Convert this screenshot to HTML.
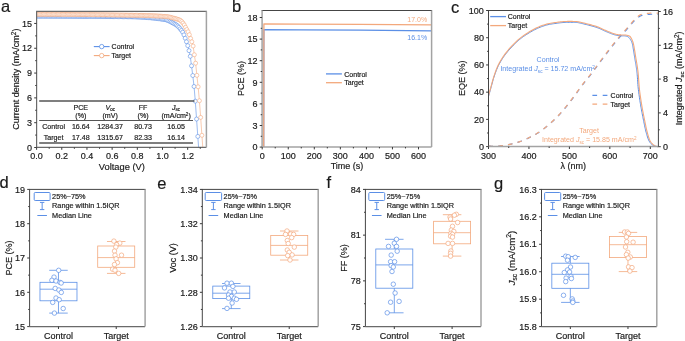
<!DOCTYPE html>
<html><head><meta charset="utf-8"><style>
html,body{margin:0;padding:0;background:#fff;}
body{width:685px;height:341px;overflow:hidden;}
svg{display:block;font-family:"Liberation Sans", sans-serif;filter:blur(0.4px);}
text{stroke-width:0.18px;}
</style></head><body>
<svg width="685" height="341" viewBox="0 0 685 341">
<rect width="685" height="341" fill="#fff"/>
<g id="pa">
<clipPath id="clipa"><rect x="36.6" y="11.3" width="169.8" height="136.1"/></clipPath>
<g clip-path="url(#clipa)">
<polyline points="36.66,16.2 37.92,16.2 39.18,16.2 40.44,16.2 41.7,16.2 42.96,16.2 44.22,16.2 45.48,16.2 46.73,16.21 47.99,16.21 49.25,16.21 50.51,16.21 51.77,16.21 53.03,16.22 54.29,16.22 55.55,16.22 56.81,16.23 58.07,16.23 59.32,16.23 60.58,16.24 61.84,16.24 63.1,16.24 64.36,16.25 65.62,16.25 66.88,16.26 68.14,16.26 69.4,16.27 70.66,16.27 71.91,16.28 73.17,16.28 74.43,16.29 75.69,16.3 76.95,16.3 78.21,16.31 79.47,16.32 80.73,16.33 81.99,16.33 83.25,16.34 84.5,16.35 85.76,16.36 87.02,16.36 88.28,16.37 89.54,16.38 90.8,16.39 92.06,16.4 93.32,16.41 94.58,16.42 95.84,16.43 97.09,16.44 98.35,16.45 99.61,16.46 100.87,16.47 102.13,16.48 103.39,16.5 104.65,16.51 105.91,16.52 107.17,16.53 108.43,16.54 109.68,16.56 110.94,16.57 112.2,16.58 113.46,16.6 114.72,16.61 115.98,16.63 117.24,16.64 118.5,16.65 119.76,16.67 121.02,16.68 122.27,16.7 123.53,16.72 124.79,16.73 126.05,16.75 127.31,16.76 128.57,16.78 129.83,16.8 131.09,16.82 132.35,16.84 133.61,16.87 134.86,16.9 136.12,16.94 137.38,16.99 138.64,17.04 139.9,17.1 141.16,17.16 142.42,17.23 143.68,17.3 144.94,17.39 146.2,17.47 147.45,17.57 148.71,17.67 149.97,17.77 151.23,17.89 152.49,18.01 153.75,18.13 155.01,18.27 156.27,18.41 157.53,18.56 158.79,18.72 160.04,18.88 161.3,19.05 162.56,19.23 163.82,19.42 165.08,19.61 166.34,19.91 167.6,20.35 168.86,20.9 170.12,21.52 171.38,22.19 172.63,22.86 173.89,23.52 175.15,24.24 176.41,25.04 177.67,25.99 178.93,27.24 180.19,28.81 181.45,30.42 182.71,32.2 183.97,34.89 185.22,38.22 186.48,41.75 187.74,45.65 189,50.63 190.26,56.29 191.52,65.84 192.78,75.52 194.04,86.48 195.3,101.16 196.56,119.04 197.81,136.43 199.07,153.92" fill="none" stroke="#5b8fe6" stroke-width="0.6" stroke-linejoin="round" />
<circle cx="36.66" cy="16.2" r="2.0" fill="#fff" stroke="#5b8fe6" stroke-width="0.6"/>
<circle cx="37.92" cy="16.2" r="2.0" fill="#fff" stroke="#5b8fe6" stroke-width="0.6"/>
<circle cx="39.18" cy="16.2" r="2.0" fill="#fff" stroke="#5b8fe6" stroke-width="0.6"/>
<circle cx="40.44" cy="16.2" r="2.0" fill="#fff" stroke="#5b8fe6" stroke-width="0.6"/>
<circle cx="41.7" cy="16.2" r="2.0" fill="#fff" stroke="#5b8fe6" stroke-width="0.6"/>
<circle cx="42.96" cy="16.2" r="2.0" fill="#fff" stroke="#5b8fe6" stroke-width="0.6"/>
<circle cx="44.22" cy="16.2" r="2.0" fill="#fff" stroke="#5b8fe6" stroke-width="0.6"/>
<circle cx="45.48" cy="16.2" r="2.0" fill="#fff" stroke="#5b8fe6" stroke-width="0.6"/>
<circle cx="46.73" cy="16.21" r="2.0" fill="#fff" stroke="#5b8fe6" stroke-width="0.6"/>
<circle cx="47.99" cy="16.21" r="2.0" fill="#fff" stroke="#5b8fe6" stroke-width="0.6"/>
<circle cx="49.25" cy="16.21" r="2.0" fill="#fff" stroke="#5b8fe6" stroke-width="0.6"/>
<circle cx="50.51" cy="16.21" r="2.0" fill="#fff" stroke="#5b8fe6" stroke-width="0.6"/>
<circle cx="51.77" cy="16.21" r="2.0" fill="#fff" stroke="#5b8fe6" stroke-width="0.6"/>
<circle cx="53.03" cy="16.22" r="2.0" fill="#fff" stroke="#5b8fe6" stroke-width="0.6"/>
<circle cx="54.29" cy="16.22" r="2.0" fill="#fff" stroke="#5b8fe6" stroke-width="0.6"/>
<circle cx="55.55" cy="16.22" r="2.0" fill="#fff" stroke="#5b8fe6" stroke-width="0.6"/>
<circle cx="56.81" cy="16.23" r="2.0" fill="#fff" stroke="#5b8fe6" stroke-width="0.6"/>
<circle cx="58.07" cy="16.23" r="2.0" fill="#fff" stroke="#5b8fe6" stroke-width="0.6"/>
<circle cx="59.32" cy="16.23" r="2.0" fill="#fff" stroke="#5b8fe6" stroke-width="0.6"/>
<circle cx="60.58" cy="16.24" r="2.0" fill="#fff" stroke="#5b8fe6" stroke-width="0.6"/>
<circle cx="61.84" cy="16.24" r="2.0" fill="#fff" stroke="#5b8fe6" stroke-width="0.6"/>
<circle cx="63.1" cy="16.24" r="2.0" fill="#fff" stroke="#5b8fe6" stroke-width="0.6"/>
<circle cx="64.36" cy="16.25" r="2.0" fill="#fff" stroke="#5b8fe6" stroke-width="0.6"/>
<circle cx="65.62" cy="16.25" r="2.0" fill="#fff" stroke="#5b8fe6" stroke-width="0.6"/>
<circle cx="66.88" cy="16.26" r="2.0" fill="#fff" stroke="#5b8fe6" stroke-width="0.6"/>
<circle cx="68.14" cy="16.26" r="2.0" fill="#fff" stroke="#5b8fe6" stroke-width="0.6"/>
<circle cx="69.4" cy="16.27" r="2.0" fill="#fff" stroke="#5b8fe6" stroke-width="0.6"/>
<circle cx="70.66" cy="16.27" r="2.0" fill="#fff" stroke="#5b8fe6" stroke-width="0.6"/>
<circle cx="71.91" cy="16.28" r="2.0" fill="#fff" stroke="#5b8fe6" stroke-width="0.6"/>
<circle cx="73.17" cy="16.28" r="2.0" fill="#fff" stroke="#5b8fe6" stroke-width="0.6"/>
<circle cx="74.43" cy="16.29" r="2.0" fill="#fff" stroke="#5b8fe6" stroke-width="0.6"/>
<circle cx="75.69" cy="16.3" r="2.0" fill="#fff" stroke="#5b8fe6" stroke-width="0.6"/>
<circle cx="76.95" cy="16.3" r="2.0" fill="#fff" stroke="#5b8fe6" stroke-width="0.6"/>
<circle cx="78.21" cy="16.31" r="2.0" fill="#fff" stroke="#5b8fe6" stroke-width="0.6"/>
<circle cx="79.47" cy="16.32" r="2.0" fill="#fff" stroke="#5b8fe6" stroke-width="0.6"/>
<circle cx="80.73" cy="16.33" r="2.0" fill="#fff" stroke="#5b8fe6" stroke-width="0.6"/>
<circle cx="81.99" cy="16.33" r="2.0" fill="#fff" stroke="#5b8fe6" stroke-width="0.6"/>
<circle cx="83.25" cy="16.34" r="2.0" fill="#fff" stroke="#5b8fe6" stroke-width="0.6"/>
<circle cx="84.5" cy="16.35" r="2.0" fill="#fff" stroke="#5b8fe6" stroke-width="0.6"/>
<circle cx="85.76" cy="16.36" r="2.0" fill="#fff" stroke="#5b8fe6" stroke-width="0.6"/>
<circle cx="87.02" cy="16.36" r="2.0" fill="#fff" stroke="#5b8fe6" stroke-width="0.6"/>
<circle cx="88.28" cy="16.37" r="2.0" fill="#fff" stroke="#5b8fe6" stroke-width="0.6"/>
<circle cx="89.54" cy="16.38" r="2.0" fill="#fff" stroke="#5b8fe6" stroke-width="0.6"/>
<circle cx="90.8" cy="16.39" r="2.0" fill="#fff" stroke="#5b8fe6" stroke-width="0.6"/>
<circle cx="92.06" cy="16.4" r="2.0" fill="#fff" stroke="#5b8fe6" stroke-width="0.6"/>
<circle cx="93.32" cy="16.41" r="2.0" fill="#fff" stroke="#5b8fe6" stroke-width="0.6"/>
<circle cx="94.58" cy="16.42" r="2.0" fill="#fff" stroke="#5b8fe6" stroke-width="0.6"/>
<circle cx="95.84" cy="16.43" r="2.0" fill="#fff" stroke="#5b8fe6" stroke-width="0.6"/>
<circle cx="97.09" cy="16.44" r="2.0" fill="#fff" stroke="#5b8fe6" stroke-width="0.6"/>
<circle cx="98.35" cy="16.45" r="2.0" fill="#fff" stroke="#5b8fe6" stroke-width="0.6"/>
<circle cx="99.61" cy="16.46" r="2.0" fill="#fff" stroke="#5b8fe6" stroke-width="0.6"/>
<circle cx="100.87" cy="16.47" r="2.0" fill="#fff" stroke="#5b8fe6" stroke-width="0.6"/>
<circle cx="102.13" cy="16.48" r="2.0" fill="#fff" stroke="#5b8fe6" stroke-width="0.6"/>
<circle cx="103.39" cy="16.5" r="2.0" fill="#fff" stroke="#5b8fe6" stroke-width="0.6"/>
<circle cx="104.65" cy="16.51" r="2.0" fill="#fff" stroke="#5b8fe6" stroke-width="0.6"/>
<circle cx="105.91" cy="16.52" r="2.0" fill="#fff" stroke="#5b8fe6" stroke-width="0.6"/>
<circle cx="107.17" cy="16.53" r="2.0" fill="#fff" stroke="#5b8fe6" stroke-width="0.6"/>
<circle cx="108.43" cy="16.54" r="2.0" fill="#fff" stroke="#5b8fe6" stroke-width="0.6"/>
<circle cx="109.68" cy="16.56" r="2.0" fill="#fff" stroke="#5b8fe6" stroke-width="0.6"/>
<circle cx="110.94" cy="16.57" r="2.0" fill="#fff" stroke="#5b8fe6" stroke-width="0.6"/>
<circle cx="112.2" cy="16.58" r="2.0" fill="#fff" stroke="#5b8fe6" stroke-width="0.6"/>
<circle cx="113.46" cy="16.6" r="2.0" fill="#fff" stroke="#5b8fe6" stroke-width="0.6"/>
<circle cx="114.72" cy="16.61" r="2.0" fill="#fff" stroke="#5b8fe6" stroke-width="0.6"/>
<circle cx="115.98" cy="16.63" r="2.0" fill="#fff" stroke="#5b8fe6" stroke-width="0.6"/>
<circle cx="117.24" cy="16.64" r="2.0" fill="#fff" stroke="#5b8fe6" stroke-width="0.6"/>
<circle cx="118.5" cy="16.65" r="2.0" fill="#fff" stroke="#5b8fe6" stroke-width="0.6"/>
<circle cx="119.76" cy="16.67" r="2.0" fill="#fff" stroke="#5b8fe6" stroke-width="0.6"/>
<circle cx="121.02" cy="16.68" r="2.0" fill="#fff" stroke="#5b8fe6" stroke-width="0.6"/>
<circle cx="122.27" cy="16.7" r="2.0" fill="#fff" stroke="#5b8fe6" stroke-width="0.6"/>
<circle cx="123.53" cy="16.72" r="2.0" fill="#fff" stroke="#5b8fe6" stroke-width="0.6"/>
<circle cx="124.79" cy="16.73" r="2.0" fill="#fff" stroke="#5b8fe6" stroke-width="0.6"/>
<circle cx="126.05" cy="16.75" r="2.0" fill="#fff" stroke="#5b8fe6" stroke-width="0.6"/>
<circle cx="127.31" cy="16.76" r="2.0" fill="#fff" stroke="#5b8fe6" stroke-width="0.6"/>
<circle cx="128.57" cy="16.78" r="2.0" fill="#fff" stroke="#5b8fe6" stroke-width="0.6"/>
<circle cx="129.83" cy="16.8" r="2.0" fill="#fff" stroke="#5b8fe6" stroke-width="0.6"/>
<circle cx="131.09" cy="16.82" r="2.0" fill="#fff" stroke="#5b8fe6" stroke-width="0.6"/>
<circle cx="132.35" cy="16.84" r="2.0" fill="#fff" stroke="#5b8fe6" stroke-width="0.6"/>
<circle cx="133.61" cy="16.87" r="2.0" fill="#fff" stroke="#5b8fe6" stroke-width="0.6"/>
<circle cx="134.86" cy="16.9" r="2.0" fill="#fff" stroke="#5b8fe6" stroke-width="0.6"/>
<circle cx="136.12" cy="16.94" r="2.0" fill="#fff" stroke="#5b8fe6" stroke-width="0.6"/>
<circle cx="137.38" cy="16.99" r="2.0" fill="#fff" stroke="#5b8fe6" stroke-width="0.6"/>
<circle cx="138.64" cy="17.04" r="2.0" fill="#fff" stroke="#5b8fe6" stroke-width="0.6"/>
<circle cx="139.9" cy="17.1" r="2.0" fill="#fff" stroke="#5b8fe6" stroke-width="0.6"/>
<circle cx="141.16" cy="17.16" r="2.0" fill="#fff" stroke="#5b8fe6" stroke-width="0.6"/>
<circle cx="142.42" cy="17.23" r="2.0" fill="#fff" stroke="#5b8fe6" stroke-width="0.6"/>
<circle cx="143.68" cy="17.3" r="2.0" fill="#fff" stroke="#5b8fe6" stroke-width="0.6"/>
<circle cx="144.94" cy="17.39" r="2.0" fill="#fff" stroke="#5b8fe6" stroke-width="0.6"/>
<circle cx="146.2" cy="17.47" r="2.0" fill="#fff" stroke="#5b8fe6" stroke-width="0.6"/>
<circle cx="147.45" cy="17.57" r="2.0" fill="#fff" stroke="#5b8fe6" stroke-width="0.6"/>
<circle cx="148.71" cy="17.67" r="2.0" fill="#fff" stroke="#5b8fe6" stroke-width="0.6"/>
<circle cx="149.97" cy="17.77" r="2.0" fill="#fff" stroke="#5b8fe6" stroke-width="0.6"/>
<circle cx="151.23" cy="17.89" r="2.0" fill="#fff" stroke="#5b8fe6" stroke-width="0.6"/>
<circle cx="152.49" cy="18.01" r="2.0" fill="#fff" stroke="#5b8fe6" stroke-width="0.6"/>
<circle cx="153.75" cy="18.13" r="2.0" fill="#fff" stroke="#5b8fe6" stroke-width="0.6"/>
<circle cx="155.01" cy="18.27" r="2.0" fill="#fff" stroke="#5b8fe6" stroke-width="0.6"/>
<circle cx="156.27" cy="18.41" r="2.0" fill="#fff" stroke="#5b8fe6" stroke-width="0.6"/>
<circle cx="157.53" cy="18.56" r="2.0" fill="#fff" stroke="#5b8fe6" stroke-width="0.6"/>
<circle cx="158.79" cy="18.72" r="2.0" fill="#fff" stroke="#5b8fe6" stroke-width="0.6"/>
<circle cx="160.04" cy="18.88" r="2.0" fill="#fff" stroke="#5b8fe6" stroke-width="0.6"/>
<circle cx="161.3" cy="19.05" r="2.0" fill="#fff" stroke="#5b8fe6" stroke-width="0.6"/>
<circle cx="162.56" cy="19.23" r="2.0" fill="#fff" stroke="#5b8fe6" stroke-width="0.6"/>
<circle cx="163.82" cy="19.42" r="2.0" fill="#fff" stroke="#5b8fe6" stroke-width="0.6"/>
<circle cx="165.08" cy="19.61" r="2.0" fill="#fff" stroke="#5b8fe6" stroke-width="0.6"/>
<circle cx="166.34" cy="19.91" r="2.0" fill="#fff" stroke="#5b8fe6" stroke-width="0.6"/>
<circle cx="167.6" cy="20.35" r="2.0" fill="#fff" stroke="#5b8fe6" stroke-width="0.6"/>
<circle cx="168.86" cy="20.9" r="2.0" fill="#fff" stroke="#5b8fe6" stroke-width="0.6"/>
<circle cx="170.12" cy="21.52" r="2.0" fill="#fff" stroke="#5b8fe6" stroke-width="0.6"/>
<circle cx="171.38" cy="22.19" r="2.0" fill="#fff" stroke="#5b8fe6" stroke-width="0.6"/>
<circle cx="172.63" cy="22.86" r="2.0" fill="#fff" stroke="#5b8fe6" stroke-width="0.6"/>
<circle cx="173.89" cy="23.52" r="2.0" fill="#fff" stroke="#5b8fe6" stroke-width="0.6"/>
<circle cx="175.15" cy="24.24" r="2.0" fill="#fff" stroke="#5b8fe6" stroke-width="0.6"/>
<circle cx="176.41" cy="25.04" r="2.0" fill="#fff" stroke="#5b8fe6" stroke-width="0.6"/>
<circle cx="177.67" cy="25.99" r="2.0" fill="#fff" stroke="#5b8fe6" stroke-width="0.6"/>
<circle cx="178.93" cy="27.24" r="2.0" fill="#fff" stroke="#5b8fe6" stroke-width="0.6"/>
<circle cx="180.19" cy="28.81" r="2.0" fill="#fff" stroke="#5b8fe6" stroke-width="0.6"/>
<circle cx="181.45" cy="30.42" r="2.0" fill="#fff" stroke="#5b8fe6" stroke-width="0.6"/>
<circle cx="182.71" cy="32.2" r="2.0" fill="#fff" stroke="#5b8fe6" stroke-width="0.6"/>
<circle cx="183.97" cy="34.89" r="2.0" fill="#fff" stroke="#5b8fe6" stroke-width="0.6"/>
<circle cx="185.22" cy="38.22" r="2.0" fill="#fff" stroke="#5b8fe6" stroke-width="0.6"/>
<circle cx="186.48" cy="41.75" r="2.0" fill="#fff" stroke="#5b8fe6" stroke-width="0.6"/>
<circle cx="187.74" cy="45.65" r="2.0" fill="#fff" stroke="#5b8fe6" stroke-width="0.6"/>
<circle cx="189" cy="50.63" r="2.0" fill="#fff" stroke="#5b8fe6" stroke-width="0.6"/>
<circle cx="190.26" cy="56.29" r="2.0" fill="#fff" stroke="#5b8fe6" stroke-width="0.6"/>
<circle cx="191.52" cy="65.84" r="2.0" fill="#fff" stroke="#5b8fe6" stroke-width="0.6"/>
<circle cx="192.78" cy="75.52" r="2.0" fill="#fff" stroke="#5b8fe6" stroke-width="0.6"/>
<circle cx="194.04" cy="86.48" r="2.0" fill="#fff" stroke="#5b8fe6" stroke-width="0.6"/>
<circle cx="195.3" cy="101.16" r="2.0" fill="#fff" stroke="#5b8fe6" stroke-width="0.6"/>
<circle cx="196.56" cy="119.04" r="2.0" fill="#fff" stroke="#5b8fe6" stroke-width="0.6"/>
<circle cx="197.81" cy="136.43" r="2.0" fill="#fff" stroke="#5b8fe6" stroke-width="0.6"/>
</g>
<g clip-path="url(#clipa)">
<polyline points="36.99,14.3 38.25,14.3 39.51,14.3 40.77,14.3 42.03,14.3 43.29,14.31 44.54,14.31 45.8,14.31 47.06,14.31 48.32,14.32 49.58,14.32 50.84,14.33 52.1,14.33 53.36,14.34 54.62,14.34 55.88,14.35 57.13,14.35 58.39,14.36 59.65,14.37 60.91,14.37 62.17,14.38 63.43,14.39 64.69,14.4 65.95,14.41 67.21,14.41 68.47,14.42 69.72,14.43 70.98,14.44 72.24,14.45 73.5,14.46 74.76,14.47 76.02,14.49 77.28,14.5 78.54,14.51 79.8,14.52 81.06,14.53 82.31,14.55 83.57,14.56 84.83,14.57 86.09,14.59 87.35,14.6 88.61,14.61 89.87,14.63 91.13,14.64 92.39,14.66 93.65,14.67 94.9,14.69 96.16,14.7 97.42,14.72 98.68,14.73 99.94,14.75 101.2,14.77 102.46,14.78 103.72,14.8 104.98,14.82 106.24,14.84 107.49,14.85 108.75,14.87 110.01,14.89 111.27,14.91 112.53,14.93 113.79,14.94 115.05,14.96 116.31,14.98 117.57,15 118.83,15.02 120.08,15.04 121.34,15.06 122.6,15.08 123.86,15.1 125.12,15.12 126.38,15.14 127.64,15.16 128.9,15.18 130.16,15.2 131.42,15.22 132.67,15.25 133.93,15.27 135.19,15.29 136.45,15.31 137.71,15.34 138.97,15.36 140.23,15.39 141.49,15.42 142.75,15.45 144.01,15.48 145.26,15.51 146.52,15.55 147.78,15.59 149.04,15.63 150.3,15.67 151.56,15.72 152.82,15.77 154.08,15.82 155.34,15.88 156.6,15.93 157.85,16 159.11,16.06 160.37,16.13 161.63,16.21 162.89,16.29 164.15,16.37 165.41,16.46 166.67,16.56 167.93,16.74 169.19,17 170.44,17.3 171.7,17.63 172.96,17.97 174.22,18.31 175.48,18.63 176.74,18.97 178,19.36 179.26,19.84 180.52,20.47 181.78,21.55 183.03,23.1 184.29,24.91 185.55,27.26 186.81,29.55 188.07,31.79 189.33,34.69 190.59,38.4 191.85,41.79 193.11,46.02 194.37,54.75 195.62,63.2 196.88,75.33 198.14,86.82 199.4,100.72 200.66,117.4 201.92,135.29 203.18,152.98" fill="none" stroke="#f3a87c" stroke-width="0.6" stroke-linejoin="round" />
<circle cx="36.99" cy="14.3" r="2.0" fill="#fff" stroke="#f3a87c" stroke-width="0.6"/>
<circle cx="38.25" cy="14.3" r="2.0" fill="#fff" stroke="#f3a87c" stroke-width="0.6"/>
<circle cx="39.51" cy="14.3" r="2.0" fill="#fff" stroke="#f3a87c" stroke-width="0.6"/>
<circle cx="40.77" cy="14.3" r="2.0" fill="#fff" stroke="#f3a87c" stroke-width="0.6"/>
<circle cx="42.03" cy="14.3" r="2.0" fill="#fff" stroke="#f3a87c" stroke-width="0.6"/>
<circle cx="43.29" cy="14.31" r="2.0" fill="#fff" stroke="#f3a87c" stroke-width="0.6"/>
<circle cx="44.54" cy="14.31" r="2.0" fill="#fff" stroke="#f3a87c" stroke-width="0.6"/>
<circle cx="45.8" cy="14.31" r="2.0" fill="#fff" stroke="#f3a87c" stroke-width="0.6"/>
<circle cx="47.06" cy="14.31" r="2.0" fill="#fff" stroke="#f3a87c" stroke-width="0.6"/>
<circle cx="48.32" cy="14.32" r="2.0" fill="#fff" stroke="#f3a87c" stroke-width="0.6"/>
<circle cx="49.58" cy="14.32" r="2.0" fill="#fff" stroke="#f3a87c" stroke-width="0.6"/>
<circle cx="50.84" cy="14.33" r="2.0" fill="#fff" stroke="#f3a87c" stroke-width="0.6"/>
<circle cx="52.1" cy="14.33" r="2.0" fill="#fff" stroke="#f3a87c" stroke-width="0.6"/>
<circle cx="53.36" cy="14.34" r="2.0" fill="#fff" stroke="#f3a87c" stroke-width="0.6"/>
<circle cx="54.62" cy="14.34" r="2.0" fill="#fff" stroke="#f3a87c" stroke-width="0.6"/>
<circle cx="55.88" cy="14.35" r="2.0" fill="#fff" stroke="#f3a87c" stroke-width="0.6"/>
<circle cx="57.13" cy="14.35" r="2.0" fill="#fff" stroke="#f3a87c" stroke-width="0.6"/>
<circle cx="58.39" cy="14.36" r="2.0" fill="#fff" stroke="#f3a87c" stroke-width="0.6"/>
<circle cx="59.65" cy="14.37" r="2.0" fill="#fff" stroke="#f3a87c" stroke-width="0.6"/>
<circle cx="60.91" cy="14.37" r="2.0" fill="#fff" stroke="#f3a87c" stroke-width="0.6"/>
<circle cx="62.17" cy="14.38" r="2.0" fill="#fff" stroke="#f3a87c" stroke-width="0.6"/>
<circle cx="63.43" cy="14.39" r="2.0" fill="#fff" stroke="#f3a87c" stroke-width="0.6"/>
<circle cx="64.69" cy="14.4" r="2.0" fill="#fff" stroke="#f3a87c" stroke-width="0.6"/>
<circle cx="65.95" cy="14.41" r="2.0" fill="#fff" stroke="#f3a87c" stroke-width="0.6"/>
<circle cx="67.21" cy="14.41" r="2.0" fill="#fff" stroke="#f3a87c" stroke-width="0.6"/>
<circle cx="68.47" cy="14.42" r="2.0" fill="#fff" stroke="#f3a87c" stroke-width="0.6"/>
<circle cx="69.72" cy="14.43" r="2.0" fill="#fff" stroke="#f3a87c" stroke-width="0.6"/>
<circle cx="70.98" cy="14.44" r="2.0" fill="#fff" stroke="#f3a87c" stroke-width="0.6"/>
<circle cx="72.24" cy="14.45" r="2.0" fill="#fff" stroke="#f3a87c" stroke-width="0.6"/>
<circle cx="73.5" cy="14.46" r="2.0" fill="#fff" stroke="#f3a87c" stroke-width="0.6"/>
<circle cx="74.76" cy="14.47" r="2.0" fill="#fff" stroke="#f3a87c" stroke-width="0.6"/>
<circle cx="76.02" cy="14.49" r="2.0" fill="#fff" stroke="#f3a87c" stroke-width="0.6"/>
<circle cx="77.28" cy="14.5" r="2.0" fill="#fff" stroke="#f3a87c" stroke-width="0.6"/>
<circle cx="78.54" cy="14.51" r="2.0" fill="#fff" stroke="#f3a87c" stroke-width="0.6"/>
<circle cx="79.8" cy="14.52" r="2.0" fill="#fff" stroke="#f3a87c" stroke-width="0.6"/>
<circle cx="81.06" cy="14.53" r="2.0" fill="#fff" stroke="#f3a87c" stroke-width="0.6"/>
<circle cx="82.31" cy="14.55" r="2.0" fill="#fff" stroke="#f3a87c" stroke-width="0.6"/>
<circle cx="83.57" cy="14.56" r="2.0" fill="#fff" stroke="#f3a87c" stroke-width="0.6"/>
<circle cx="84.83" cy="14.57" r="2.0" fill="#fff" stroke="#f3a87c" stroke-width="0.6"/>
<circle cx="86.09" cy="14.59" r="2.0" fill="#fff" stroke="#f3a87c" stroke-width="0.6"/>
<circle cx="87.35" cy="14.6" r="2.0" fill="#fff" stroke="#f3a87c" stroke-width="0.6"/>
<circle cx="88.61" cy="14.61" r="2.0" fill="#fff" stroke="#f3a87c" stroke-width="0.6"/>
<circle cx="89.87" cy="14.63" r="2.0" fill="#fff" stroke="#f3a87c" stroke-width="0.6"/>
<circle cx="91.13" cy="14.64" r="2.0" fill="#fff" stroke="#f3a87c" stroke-width="0.6"/>
<circle cx="92.39" cy="14.66" r="2.0" fill="#fff" stroke="#f3a87c" stroke-width="0.6"/>
<circle cx="93.65" cy="14.67" r="2.0" fill="#fff" stroke="#f3a87c" stroke-width="0.6"/>
<circle cx="94.9" cy="14.69" r="2.0" fill="#fff" stroke="#f3a87c" stroke-width="0.6"/>
<circle cx="96.16" cy="14.7" r="2.0" fill="#fff" stroke="#f3a87c" stroke-width="0.6"/>
<circle cx="97.42" cy="14.72" r="2.0" fill="#fff" stroke="#f3a87c" stroke-width="0.6"/>
<circle cx="98.68" cy="14.73" r="2.0" fill="#fff" stroke="#f3a87c" stroke-width="0.6"/>
<circle cx="99.94" cy="14.75" r="2.0" fill="#fff" stroke="#f3a87c" stroke-width="0.6"/>
<circle cx="101.2" cy="14.77" r="2.0" fill="#fff" stroke="#f3a87c" stroke-width="0.6"/>
<circle cx="102.46" cy="14.78" r="2.0" fill="#fff" stroke="#f3a87c" stroke-width="0.6"/>
<circle cx="103.72" cy="14.8" r="2.0" fill="#fff" stroke="#f3a87c" stroke-width="0.6"/>
<circle cx="104.98" cy="14.82" r="2.0" fill="#fff" stroke="#f3a87c" stroke-width="0.6"/>
<circle cx="106.24" cy="14.84" r="2.0" fill="#fff" stroke="#f3a87c" stroke-width="0.6"/>
<circle cx="107.49" cy="14.85" r="2.0" fill="#fff" stroke="#f3a87c" stroke-width="0.6"/>
<circle cx="108.75" cy="14.87" r="2.0" fill="#fff" stroke="#f3a87c" stroke-width="0.6"/>
<circle cx="110.01" cy="14.89" r="2.0" fill="#fff" stroke="#f3a87c" stroke-width="0.6"/>
<circle cx="111.27" cy="14.91" r="2.0" fill="#fff" stroke="#f3a87c" stroke-width="0.6"/>
<circle cx="112.53" cy="14.93" r="2.0" fill="#fff" stroke="#f3a87c" stroke-width="0.6"/>
<circle cx="113.79" cy="14.94" r="2.0" fill="#fff" stroke="#f3a87c" stroke-width="0.6"/>
<circle cx="115.05" cy="14.96" r="2.0" fill="#fff" stroke="#f3a87c" stroke-width="0.6"/>
<circle cx="116.31" cy="14.98" r="2.0" fill="#fff" stroke="#f3a87c" stroke-width="0.6"/>
<circle cx="117.57" cy="15" r="2.0" fill="#fff" stroke="#f3a87c" stroke-width="0.6"/>
<circle cx="118.83" cy="15.02" r="2.0" fill="#fff" stroke="#f3a87c" stroke-width="0.6"/>
<circle cx="120.08" cy="15.04" r="2.0" fill="#fff" stroke="#f3a87c" stroke-width="0.6"/>
<circle cx="121.34" cy="15.06" r="2.0" fill="#fff" stroke="#f3a87c" stroke-width="0.6"/>
<circle cx="122.6" cy="15.08" r="2.0" fill="#fff" stroke="#f3a87c" stroke-width="0.6"/>
<circle cx="123.86" cy="15.1" r="2.0" fill="#fff" stroke="#f3a87c" stroke-width="0.6"/>
<circle cx="125.12" cy="15.12" r="2.0" fill="#fff" stroke="#f3a87c" stroke-width="0.6"/>
<circle cx="126.38" cy="15.14" r="2.0" fill="#fff" stroke="#f3a87c" stroke-width="0.6"/>
<circle cx="127.64" cy="15.16" r="2.0" fill="#fff" stroke="#f3a87c" stroke-width="0.6"/>
<circle cx="128.9" cy="15.18" r="2.0" fill="#fff" stroke="#f3a87c" stroke-width="0.6"/>
<circle cx="130.16" cy="15.2" r="2.0" fill="#fff" stroke="#f3a87c" stroke-width="0.6"/>
<circle cx="131.42" cy="15.22" r="2.0" fill="#fff" stroke="#f3a87c" stroke-width="0.6"/>
<circle cx="132.67" cy="15.25" r="2.0" fill="#fff" stroke="#f3a87c" stroke-width="0.6"/>
<circle cx="133.93" cy="15.27" r="2.0" fill="#fff" stroke="#f3a87c" stroke-width="0.6"/>
<circle cx="135.19" cy="15.29" r="2.0" fill="#fff" stroke="#f3a87c" stroke-width="0.6"/>
<circle cx="136.45" cy="15.31" r="2.0" fill="#fff" stroke="#f3a87c" stroke-width="0.6"/>
<circle cx="137.71" cy="15.34" r="2.0" fill="#fff" stroke="#f3a87c" stroke-width="0.6"/>
<circle cx="138.97" cy="15.36" r="2.0" fill="#fff" stroke="#f3a87c" stroke-width="0.6"/>
<circle cx="140.23" cy="15.39" r="2.0" fill="#fff" stroke="#f3a87c" stroke-width="0.6"/>
<circle cx="141.49" cy="15.42" r="2.0" fill="#fff" stroke="#f3a87c" stroke-width="0.6"/>
<circle cx="142.75" cy="15.45" r="2.0" fill="#fff" stroke="#f3a87c" stroke-width="0.6"/>
<circle cx="144.01" cy="15.48" r="2.0" fill="#fff" stroke="#f3a87c" stroke-width="0.6"/>
<circle cx="145.26" cy="15.51" r="2.0" fill="#fff" stroke="#f3a87c" stroke-width="0.6"/>
<circle cx="146.52" cy="15.55" r="2.0" fill="#fff" stroke="#f3a87c" stroke-width="0.6"/>
<circle cx="147.78" cy="15.59" r="2.0" fill="#fff" stroke="#f3a87c" stroke-width="0.6"/>
<circle cx="149.04" cy="15.63" r="2.0" fill="#fff" stroke="#f3a87c" stroke-width="0.6"/>
<circle cx="150.3" cy="15.67" r="2.0" fill="#fff" stroke="#f3a87c" stroke-width="0.6"/>
<circle cx="151.56" cy="15.72" r="2.0" fill="#fff" stroke="#f3a87c" stroke-width="0.6"/>
<circle cx="152.82" cy="15.77" r="2.0" fill="#fff" stroke="#f3a87c" stroke-width="0.6"/>
<circle cx="154.08" cy="15.82" r="2.0" fill="#fff" stroke="#f3a87c" stroke-width="0.6"/>
<circle cx="155.34" cy="15.88" r="2.0" fill="#fff" stroke="#f3a87c" stroke-width="0.6"/>
<circle cx="156.6" cy="15.93" r="2.0" fill="#fff" stroke="#f3a87c" stroke-width="0.6"/>
<circle cx="157.85" cy="16" r="2.0" fill="#fff" stroke="#f3a87c" stroke-width="0.6"/>
<circle cx="159.11" cy="16.06" r="2.0" fill="#fff" stroke="#f3a87c" stroke-width="0.6"/>
<circle cx="160.37" cy="16.13" r="2.0" fill="#fff" stroke="#f3a87c" stroke-width="0.6"/>
<circle cx="161.63" cy="16.21" r="2.0" fill="#fff" stroke="#f3a87c" stroke-width="0.6"/>
<circle cx="162.89" cy="16.29" r="2.0" fill="#fff" stroke="#f3a87c" stroke-width="0.6"/>
<circle cx="164.15" cy="16.37" r="2.0" fill="#fff" stroke="#f3a87c" stroke-width="0.6"/>
<circle cx="165.41" cy="16.46" r="2.0" fill="#fff" stroke="#f3a87c" stroke-width="0.6"/>
<circle cx="166.67" cy="16.56" r="2.0" fill="#fff" stroke="#f3a87c" stroke-width="0.6"/>
<circle cx="167.93" cy="16.74" r="2.0" fill="#fff" stroke="#f3a87c" stroke-width="0.6"/>
<circle cx="169.19" cy="17" r="2.0" fill="#fff" stroke="#f3a87c" stroke-width="0.6"/>
<circle cx="170.44" cy="17.3" r="2.0" fill="#fff" stroke="#f3a87c" stroke-width="0.6"/>
<circle cx="171.7" cy="17.63" r="2.0" fill="#fff" stroke="#f3a87c" stroke-width="0.6"/>
<circle cx="172.96" cy="17.97" r="2.0" fill="#fff" stroke="#f3a87c" stroke-width="0.6"/>
<circle cx="174.22" cy="18.31" r="2.0" fill="#fff" stroke="#f3a87c" stroke-width="0.6"/>
<circle cx="175.48" cy="18.63" r="2.0" fill="#fff" stroke="#f3a87c" stroke-width="0.6"/>
<circle cx="176.74" cy="18.97" r="2.0" fill="#fff" stroke="#f3a87c" stroke-width="0.6"/>
<circle cx="178" cy="19.36" r="2.0" fill="#fff" stroke="#f3a87c" stroke-width="0.6"/>
<circle cx="179.26" cy="19.84" r="2.0" fill="#fff" stroke="#f3a87c" stroke-width="0.6"/>
<circle cx="180.52" cy="20.47" r="2.0" fill="#fff" stroke="#f3a87c" stroke-width="0.6"/>
<circle cx="181.78" cy="21.55" r="2.0" fill="#fff" stroke="#f3a87c" stroke-width="0.6"/>
<circle cx="183.03" cy="23.1" r="2.0" fill="#fff" stroke="#f3a87c" stroke-width="0.6"/>
<circle cx="184.29" cy="24.91" r="2.0" fill="#fff" stroke="#f3a87c" stroke-width="0.6"/>
<circle cx="185.55" cy="27.26" r="2.0" fill="#fff" stroke="#f3a87c" stroke-width="0.6"/>
<circle cx="186.81" cy="29.55" r="2.0" fill="#fff" stroke="#f3a87c" stroke-width="0.6"/>
<circle cx="188.07" cy="31.79" r="2.0" fill="#fff" stroke="#f3a87c" stroke-width="0.6"/>
<circle cx="189.33" cy="34.69" r="2.0" fill="#fff" stroke="#f3a87c" stroke-width="0.6"/>
<circle cx="190.59" cy="38.4" r="2.0" fill="#fff" stroke="#f3a87c" stroke-width="0.6"/>
<circle cx="191.85" cy="41.79" r="2.0" fill="#fff" stroke="#f3a87c" stroke-width="0.6"/>
<circle cx="193.11" cy="46.02" r="2.0" fill="#fff" stroke="#f3a87c" stroke-width="0.6"/>
<circle cx="194.37" cy="54.75" r="2.0" fill="#fff" stroke="#f3a87c" stroke-width="0.6"/>
<circle cx="195.62" cy="63.2" r="2.0" fill="#fff" stroke="#f3a87c" stroke-width="0.6"/>
<circle cx="196.88" cy="75.33" r="2.0" fill="#fff" stroke="#f3a87c" stroke-width="0.6"/>
<circle cx="198.14" cy="86.82" r="2.0" fill="#fff" stroke="#f3a87c" stroke-width="0.6"/>
<circle cx="199.4" cy="100.72" r="2.0" fill="#fff" stroke="#f3a87c" stroke-width="0.6"/>
<circle cx="200.66" cy="117.4" r="2.0" fill="#fff" stroke="#f3a87c" stroke-width="0.6"/>
<circle cx="201.92" cy="135.29" r="2.0" fill="#fff" stroke="#f3a87c" stroke-width="0.6"/>
</g>
<line x1="36.1" y1="11.3" x2="206.9" y2="11.3" stroke="#454545" stroke-width="1.0" />
<line x1="36.6" y1="11.3" x2="36.6" y2="147.4" stroke="#6a6a6a" stroke-width="1.2" />
<line x1="36.6" y1="147.4" x2="206.4" y2="147.4" stroke="#6a6a6a" stroke-width="1.2" />
<line x1="206.4" y1="11.3" x2="206.4" y2="147.4" stroke="#a3a3a3" stroke-width="1.5" />
<line x1="34.2" y1="147.5" x2="36.6" y2="147.5" stroke="#3a3a3a" stroke-width="1.0" />
<text x="32" y="150.7" font-size="9" text-anchor="end" fill="#1a1a1a" stroke="#1a1a1a" >0</text>
<line x1="34.2" y1="122.69" x2="36.6" y2="122.69" stroke="#3a3a3a" stroke-width="1.0" />
<text x="32" y="125.89" font-size="9" text-anchor="end" fill="#1a1a1a" stroke="#1a1a1a" >3</text>
<line x1="34.2" y1="97.88" x2="36.6" y2="97.88" stroke="#3a3a3a" stroke-width="1.0" />
<text x="32" y="101.08" font-size="9" text-anchor="end" fill="#1a1a1a" stroke="#1a1a1a" >6</text>
<line x1="34.2" y1="73.07" x2="36.6" y2="73.07" stroke="#3a3a3a" stroke-width="1.0" />
<text x="32" y="76.27" font-size="9" text-anchor="end" fill="#1a1a1a" stroke="#1a1a1a" >9</text>
<line x1="34.2" y1="48.26" x2="36.6" y2="48.26" stroke="#3a3a3a" stroke-width="1.0" />
<text x="32" y="51.46" font-size="9" text-anchor="end" fill="#1a1a1a" stroke="#1a1a1a" >12</text>
<line x1="34.2" y1="23.45" x2="36.6" y2="23.45" stroke="#3a3a3a" stroke-width="1.0" />
<text x="32" y="26.65" font-size="9" text-anchor="end" fill="#1a1a1a" stroke="#1a1a1a" >15</text>
<line x1="35.2" y1="135.09" x2="36.6" y2="135.09" stroke="#3a3a3a" stroke-width="1.0" />
<line x1="35.2" y1="110.28" x2="36.6" y2="110.28" stroke="#3a3a3a" stroke-width="1.0" />
<line x1="35.2" y1="85.47" x2="36.6" y2="85.47" stroke="#3a3a3a" stroke-width="1.0" />
<line x1="35.2" y1="60.67" x2="36.6" y2="60.67" stroke="#3a3a3a" stroke-width="1.0" />
<line x1="35.2" y1="35.86" x2="36.6" y2="35.86" stroke="#3a3a3a" stroke-width="1.0" />
<line x1="36.6" y1="147.4" x2="36.6" y2="149.8" stroke="#3a3a3a" stroke-width="1.0" />
<text x="36.6" y="159.4" font-size="9" text-anchor="middle" fill="#1a1a1a" stroke="#1a1a1a" >0.0</text>
<line x1="61.78" y1="147.4" x2="61.78" y2="149.8" stroke="#3a3a3a" stroke-width="1.0" />
<text x="61.78" y="159.4" font-size="9" text-anchor="middle" fill="#1a1a1a" stroke="#1a1a1a" >0.2</text>
<line x1="86.96" y1="147.4" x2="86.96" y2="149.8" stroke="#3a3a3a" stroke-width="1.0" />
<text x="86.96" y="159.4" font-size="9" text-anchor="middle" fill="#1a1a1a" stroke="#1a1a1a" >0.4</text>
<line x1="112.14" y1="147.4" x2="112.14" y2="149.8" stroke="#3a3a3a" stroke-width="1.0" />
<text x="112.14" y="159.4" font-size="9" text-anchor="middle" fill="#1a1a1a" stroke="#1a1a1a" >0.6</text>
<line x1="137.32" y1="147.4" x2="137.32" y2="149.8" stroke="#3a3a3a" stroke-width="1.0" />
<text x="137.32" y="159.4" font-size="9" text-anchor="middle" fill="#1a1a1a" stroke="#1a1a1a" >0.8</text>
<line x1="162.5" y1="147.4" x2="162.5" y2="149.8" stroke="#3a3a3a" stroke-width="1.0" />
<text x="162.5" y="159.4" font-size="9" text-anchor="middle" fill="#1a1a1a" stroke="#1a1a1a" >1.0</text>
<line x1="187.68" y1="147.4" x2="187.68" y2="149.8" stroke="#3a3a3a" stroke-width="1.0" />
<text x="187.68" y="159.4" font-size="9" text-anchor="middle" fill="#1a1a1a" stroke="#1a1a1a" >1.2</text>
<line x1="49.19" y1="147.4" x2="49.19" y2="148.8" stroke="#3a3a3a" stroke-width="1.0" />
<line x1="74.37" y1="147.4" x2="74.37" y2="148.8" stroke="#3a3a3a" stroke-width="1.0" />
<line x1="99.55" y1="147.4" x2="99.55" y2="148.8" stroke="#3a3a3a" stroke-width="1.0" />
<line x1="124.73" y1="147.4" x2="124.73" y2="148.8" stroke="#3a3a3a" stroke-width="1.0" />
<line x1="149.91" y1="147.4" x2="149.91" y2="148.8" stroke="#3a3a3a" stroke-width="1.0" />
<line x1="175.09" y1="147.4" x2="175.09" y2="148.8" stroke="#3a3a3a" stroke-width="1.0" />
<line x1="200.27" y1="147.4" x2="200.27" y2="148.8" stroke="#3a3a3a" stroke-width="1.0" />
<text x="121.8" y="169.7" font-size="9.3" text-anchor="middle" fill="#1a1a1a" stroke="#1a1a1a" >Voltage (V)</text>
<text x="19" y="79.2" font-size="9" text-anchor="middle" fill="#1a1a1a" stroke="#1a1a1a" transform="rotate(-90 19 79.2)" >Current density (mA/cm<tspan dy="-3.4" font-size="6.5">2</tspan><tspan dy="3.4">)</tspan></text>
<text x="1.1" y="11.6" font-size="16.5" text-anchor="start" fill="#1a1a1a" stroke="#1a1a1a" >a</text>
<line x1="93.8" y1="46.6" x2="109.6" y2="46.6" stroke="#5b8fe6" stroke-width="1.1" />
<circle cx="101.7" cy="46.6" r="2.2" fill="#fff" stroke="#5b8fe6" stroke-width="0.8"/>
<line x1="93.8" y1="55.6" x2="109.6" y2="55.6" stroke="#f3a87c" stroke-width="1.1" />
<circle cx="101.7" cy="55.6" r="2.2" fill="#fff" stroke="#f3a87c" stroke-width="0.8"/>
<text x="111.6" y="49.2" font-size="7" text-anchor="start" fill="#1a1a1a" stroke="#1a1a1a" >Control</text>
<text x="111.6" y="58.1" font-size="7" text-anchor="start" fill="#1a1a1a" stroke="#1a1a1a" >Target</text>
<line x1="39.2" y1="101" x2="194.5" y2="101" stroke="#555" stroke-width="1.3" />
<line x1="39.2" y1="120.5" x2="193" y2="120.5" stroke="#555" stroke-width="1.2" />
<line x1="39.2" y1="142.9" x2="193" y2="142.9" stroke="#555" stroke-width="1.5" />
<text x="80.8" y="109.5" font-size="7.1" text-anchor="middle" fill="#1a1a1a" stroke="#1a1a1a" >PCE</text>
<text x="80.8" y="118.4" font-size="7.1" text-anchor="middle" fill="#1a1a1a" stroke="#1a1a1a" >(%)</text>
<text x="110.2" y="109.5" font-size="7.1" text-anchor="middle" fill="#1a1a1a" stroke="#1a1a1a" ><tspan font-style="italic">V</tspan><tspan font-size="4.5" dy="1.5">oc</tspan></text>
<text x="110.2" y="118.4" font-size="7.1" text-anchor="middle" fill="#1a1a1a" stroke="#1a1a1a" >(mV)</text>
<text x="143.1" y="109.5" font-size="7.1" text-anchor="middle" fill="#1a1a1a" stroke="#1a1a1a" >FF</text>
<text x="143.1" y="118.4" font-size="7.1" text-anchor="middle" fill="#1a1a1a" stroke="#1a1a1a" >(%)</text>
<text x="176.1" y="109.5" font-size="7.1" text-anchor="middle" fill="#1a1a1a" stroke="#1a1a1a" ><tspan font-style="italic">J</tspan><tspan font-size="4.5" dy="1.5">sc</tspan></text>
<text x="176.1" y="118.4" font-size="7.1" text-anchor="middle" fill="#1a1a1a" stroke="#1a1a1a" >(mA/cm<tspan font-size="4.5" dy="-2.5">2</tspan><tspan dy="2.5">)</tspan></text>
<text x="53.6" y="128.9" font-size="7.1" text-anchor="middle" fill="#1a1a1a" stroke="#1a1a1a" >Control</text>
<text x="53.6" y="140" font-size="7.1" text-anchor="middle" fill="#1a1a1a" stroke="#1a1a1a" >Target</text>
<text x="80.8" y="128.9" font-size="7.1" text-anchor="middle" fill="#1a1a1a" stroke="#1a1a1a" >16.64</text>
<text x="110.2" y="128.9" font-size="7.1" text-anchor="middle" fill="#1a1a1a" stroke="#1a1a1a" >1284.37</text>
<text x="143.1" y="128.9" font-size="7.1" text-anchor="middle" fill="#1a1a1a" stroke="#1a1a1a" >80.73</text>
<text x="176.1" y="128.9" font-size="7.1" text-anchor="middle" fill="#1a1a1a" stroke="#1a1a1a" >16.05</text>
<text x="80.8" y="140" font-size="7.1" text-anchor="middle" fill="#1a1a1a" stroke="#1a1a1a" >17.48</text>
<text x="110.2" y="140" font-size="7.1" text-anchor="middle" fill="#1a1a1a" stroke="#1a1a1a" >1315.67</text>
<text x="143.1" y="140" font-size="7.1" text-anchor="middle" fill="#1a1a1a" stroke="#1a1a1a" >82.33</text>
<text x="176.1" y="140" font-size="7.1" text-anchor="middle" fill="#1a1a1a" stroke="#1a1a1a" >16.14</text>
</g>
<g id="pb">
<polyline points="263.7,147 263.9,29.6 300,29.8 360,30.2 431.6,30.9" fill="none" stroke="#5b8fe6" stroke-width="1.3" stroke-linejoin="round" />
<polyline points="263.7,147 263.9,23.9 300,24.1 360,24.4 431.6,24.9" fill="none" stroke="#f3a87c" stroke-width="1.3" stroke-linejoin="round" />
<line x1="261.6" y1="10.5" x2="432.1" y2="10.5" stroke="#454545" stroke-width="1.0" />
<line x1="262.1" y1="10.5" x2="262.1" y2="147" stroke="#a3a3a3" stroke-width="1.5" />
<line x1="262.1" y1="147" x2="431.6" y2="147" stroke="#a3a3a3" stroke-width="1.5" />
<line x1="431.6" y1="10.5" x2="431.6" y2="147" stroke="#a3a3a3" stroke-width="1.5" />
<line x1="259.7" y1="147.1" x2="262.1" y2="147.1" stroke="#3a3a3a" stroke-width="1.0" />
<text x="257.5" y="150.3" font-size="9" text-anchor="end" fill="#1a1a1a" stroke="#1a1a1a" >0</text>
<line x1="259.7" y1="125.5" x2="262.1" y2="125.5" stroke="#3a3a3a" stroke-width="1.0" />
<text x="257.5" y="128.7" font-size="9" text-anchor="end" fill="#1a1a1a" stroke="#1a1a1a" >3</text>
<line x1="259.7" y1="103.9" x2="262.1" y2="103.9" stroke="#3a3a3a" stroke-width="1.0" />
<text x="257.5" y="107.1" font-size="9" text-anchor="end" fill="#1a1a1a" stroke="#1a1a1a" >6</text>
<line x1="259.7" y1="82.3" x2="262.1" y2="82.3" stroke="#3a3a3a" stroke-width="1.0" />
<text x="257.5" y="85.5" font-size="9" text-anchor="end" fill="#1a1a1a" stroke="#1a1a1a" >9</text>
<line x1="259.7" y1="60.7" x2="262.1" y2="60.7" stroke="#3a3a3a" stroke-width="1.0" />
<text x="257.5" y="63.9" font-size="9" text-anchor="end" fill="#1a1a1a" stroke="#1a1a1a" >12</text>
<line x1="259.7" y1="39.1" x2="262.1" y2="39.1" stroke="#3a3a3a" stroke-width="1.0" />
<text x="257.5" y="42.3" font-size="9" text-anchor="end" fill="#1a1a1a" stroke="#1a1a1a" >15</text>
<line x1="259.7" y1="17.5" x2="262.1" y2="17.5" stroke="#3a3a3a" stroke-width="1.0" />
<text x="257.5" y="20.7" font-size="9" text-anchor="end" fill="#1a1a1a" stroke="#1a1a1a" >18</text>
<line x1="260.7" y1="136.3" x2="262.1" y2="136.3" stroke="#3a3a3a" stroke-width="1.0" />
<line x1="260.7" y1="114.7" x2="262.1" y2="114.7" stroke="#3a3a3a" stroke-width="1.0" />
<line x1="260.7" y1="93.1" x2="262.1" y2="93.1" stroke="#3a3a3a" stroke-width="1.0" />
<line x1="260.7" y1="71.5" x2="262.1" y2="71.5" stroke="#3a3a3a" stroke-width="1.0" />
<line x1="260.7" y1="49.9" x2="262.1" y2="49.9" stroke="#3a3a3a" stroke-width="1.0" />
<line x1="260.7" y1="28.3" x2="262.1" y2="28.3" stroke="#3a3a3a" stroke-width="1.0" />
<line x1="262.2" y1="147" x2="262.2" y2="149.4" stroke="#3a3a3a" stroke-width="1.0" />
<text x="262.2" y="159" font-size="9" text-anchor="middle" fill="#1a1a1a" stroke="#1a1a1a" >0</text>
<line x1="288.25" y1="147" x2="288.25" y2="149.4" stroke="#3a3a3a" stroke-width="1.0" />
<text x="288.25" y="159" font-size="9" text-anchor="middle" fill="#1a1a1a" stroke="#1a1a1a" >100</text>
<line x1="314.3" y1="147" x2="314.3" y2="149.4" stroke="#3a3a3a" stroke-width="1.0" />
<text x="314.3" y="159" font-size="9" text-anchor="middle" fill="#1a1a1a" stroke="#1a1a1a" >200</text>
<line x1="340.35" y1="147" x2="340.35" y2="149.4" stroke="#3a3a3a" stroke-width="1.0" />
<text x="340.35" y="159" font-size="9" text-anchor="middle" fill="#1a1a1a" stroke="#1a1a1a" >300</text>
<line x1="366.4" y1="147" x2="366.4" y2="149.4" stroke="#3a3a3a" stroke-width="1.0" />
<text x="366.4" y="159" font-size="9" text-anchor="middle" fill="#1a1a1a" stroke="#1a1a1a" >400</text>
<line x1="392.45" y1="147" x2="392.45" y2="149.4" stroke="#3a3a3a" stroke-width="1.0" />
<text x="392.45" y="159" font-size="9" text-anchor="middle" fill="#1a1a1a" stroke="#1a1a1a" >500</text>
<line x1="418.5" y1="147" x2="418.5" y2="149.4" stroke="#3a3a3a" stroke-width="1.0" />
<text x="418.5" y="159" font-size="9" text-anchor="middle" fill="#1a1a1a" stroke="#1a1a1a" >600</text>
<line x1="275.22" y1="147" x2="275.22" y2="148.4" stroke="#3a3a3a" stroke-width="1.0" />
<line x1="301.27" y1="147" x2="301.27" y2="148.4" stroke="#3a3a3a" stroke-width="1.0" />
<line x1="327.32" y1="147" x2="327.32" y2="148.4" stroke="#3a3a3a" stroke-width="1.0" />
<line x1="353.38" y1="147" x2="353.38" y2="148.4" stroke="#3a3a3a" stroke-width="1.0" />
<line x1="379.43" y1="147" x2="379.43" y2="148.4" stroke="#3a3a3a" stroke-width="1.0" />
<line x1="405.48" y1="147" x2="405.48" y2="148.4" stroke="#3a3a3a" stroke-width="1.0" />
<text x="347" y="169" font-size="9" text-anchor="middle" fill="#1a1a1a" stroke="#1a1a1a" >Time (s)</text>
<text x="243.7" y="78.5" font-size="9" text-anchor="middle" fill="#1a1a1a" stroke="#1a1a1a" transform="rotate(-90 243.7 78.5)" >PCE (%)</text>
<text x="232" y="11.7" font-size="16.5" text-anchor="start" fill="#1a1a1a" stroke="#1a1a1a" >b</text>
<text x="427.2" y="21.5" font-size="7" text-anchor="end" fill="#f3a87c" >17.0%</text>
<text x="427.2" y="39.7" font-size="7" text-anchor="end" fill="#5b8fe6" >16.1%</text>
<line x1="326" y1="73.9" x2="341.9" y2="73.9" stroke="#5b8fe6" stroke-width="1.3" />
<line x1="326" y1="82.7" x2="341.9" y2="82.7" stroke="#f3a87c" stroke-width="1.3" />
<text x="344.3" y="76.6" font-size="7" text-anchor="start" fill="#1a1a1a" stroke="#1a1a1a" >Control</text>
<text x="344.3" y="85.2" font-size="7" text-anchor="start" fill="#1a1a1a" stroke="#1a1a1a" >Target</text>
</g>
<g id="pc">
<polyline points="488.5,146.2 489.22,146.21 490.16,146.22 491.28,146.24 492.54,146.25 493.87,146.25 495.25,146.23 496.6,146.18 497.9,146.1 499.17,145.99 500.47,145.86 501.79,145.7 503.13,145.52 504.48,145.32 505.83,145.11 507.17,144.87 508.5,144.62 509.82,144.35 511.13,144.07 512.44,143.78 513.75,143.46 515.06,143.13 516.37,142.76 517.68,142.37 519,141.94 520.32,141.48 521.65,140.98 522.97,140.46 524.3,139.91 525.63,139.34 526.95,138.74 528.28,138.12 529.6,137.47 530.92,136.82 532.23,136.15 533.54,135.46 534.85,134.75 536.16,134 537.47,133.22 538.78,132.4 540.1,131.52 541.42,130.6 542.75,129.64 544.07,128.63 545.4,127.59 546.73,126.51 548.05,125.4 549.38,124.26 550.7,123.09 552.02,121.9 553.33,120.69 554.64,119.45 555.95,118.17 557.26,116.86 558.57,115.51 559.88,114.12 561.2,112.67 562.52,111.17 563.85,109.62 565.17,108.02 566.5,106.38 567.83,104.7 569.15,103.01 570.48,101.3 571.8,99.58 573.12,97.83 574.45,96.03 575.78,94.19 577.1,92.34 578.42,90.49 579.73,88.68 581.02,86.9 582.3,85.2 583.57,83.55 584.84,81.95 586.1,80.38 587.34,78.84 588.57,77.33 589.78,75.84 590.96,74.36 592.1,72.9 593.19,71.46 594.22,70.09 595.2,68.74 596.18,67.4 597.15,66.06 598.15,64.69 599.19,63.27 600.3,61.78 601.49,60.21 602.76,58.54 604.07,56.82 605.4,55.08 606.73,53.35 608.04,51.65 609.31,50.02 610.5,48.49 611.62,47.06 612.69,45.7 613.72,44.39 614.72,43.12 615.71,41.89 616.69,40.68 617.68,39.48 618.7,38.27 619.74,37.07 620.8,35.89 621.86,34.73 622.92,33.58 623.97,32.45 625.01,31.33 626.02,30.23 627,29.15 627.95,28.06 628.88,26.97 629.79,25.89 630.68,24.83 631.56,23.8 632.42,22.81 633.26,21.88 634.1,21.01 634.91,20.21 635.69,19.45 636.45,18.73 637.19,18.07 637.94,17.45 638.7,16.9 639.48,16.39 640.3,15.95 641.16,15.59 642.06,15.3 642.98,15.08 643.91,14.91 644.84,14.77 645.75,14.66 646.65,14.57 647.5,14.47 648.32,14.38 649.13,14.32 649.93,14.29 650.7,14.27 651.46,14.27 652.19,14.27 652.91,14.27 653.6,14.27 654.3,14.26 655,14.25 655.71,14.25 656.38,14.26 657.01,14.26 657.57,14.26 658.04,14.27 658.4,14.27" fill="none" stroke="#5b8fe6" stroke-width="1.2" stroke-linejoin="round" stroke-dasharray="4.6 5.2"/>
<polyline points="488.5,146.2 489.22,146.2 490.16,146.21 491.28,146.23 492.54,146.24 493.87,146.24 495.25,146.23 496.6,146.18 497.9,146.1 499.17,145.99 500.47,145.85 501.79,145.69 503.13,145.51 504.48,145.31 505.83,145.09 507.17,144.85 508.5,144.6 509.82,144.33 511.13,144.05 512.44,143.75 513.75,143.44 515.06,143.1 516.37,142.73 517.68,142.33 519,141.9 520.32,141.43 521.65,140.94 522.97,140.41 524.3,139.86 525.63,139.28 526.95,138.67 528.28,138.05 529.6,137.4 530.92,136.74 532.23,136.06 533.54,135.37 534.85,134.65 536.16,133.9 537.47,133.11 538.78,132.28 540.1,131.4 541.42,130.47 542.75,129.5 544.07,128.48 545.4,127.43 546.73,126.34 548.05,125.22 549.38,124.08 550.7,122.9 552.02,121.7 553.33,120.48 554.64,119.23 555.95,117.94 557.26,116.62 558.57,115.26 559.88,113.86 561.2,112.4 562.52,110.89 563.85,109.32 565.17,107.7 566.5,106.05 567.83,104.36 569.15,102.65 570.48,100.93 571.8,99.2 573.12,97.44 574.45,95.62 575.78,93.77 577.1,91.9 578.42,90.04 579.73,88.21 581.02,86.42 582.3,84.7 583.57,83.04 584.84,81.42 586.1,79.84 587.34,78.29 588.57,76.77 589.78,75.27 590.96,73.78 592.1,72.3 593.19,70.86 594.22,69.47 595.2,68.11 596.18,66.76 597.15,65.41 598.15,64.03 599.19,62.6 600.3,61.1 601.49,59.51 602.76,57.83 604.07,56.1 605.4,54.34 606.73,52.59 608.04,50.88 609.31,49.24 610.5,47.7 611.62,46.26 612.69,44.88 613.72,43.56 614.72,42.29 615.71,41.05 616.69,39.83 617.68,38.61 618.7,37.4 619.74,36.19 620.8,35 621.86,33.83 622.92,32.67 623.97,31.53 625.01,30.4 626.02,29.29 627,28.2 627.95,27.11 628.88,26.01 629.79,24.92 630.68,23.84 631.56,22.8 632.42,21.81 633.26,20.87 634.1,20 634.91,19.19 635.69,18.42 636.45,17.7 637.19,17.03 637.94,16.41 638.7,15.85 639.48,15.34 640.3,14.9 641.16,14.53 642.06,14.24 642.98,14.02 643.91,13.84 644.84,13.71 645.75,13.6 646.65,13.5 647.5,13.4 648.32,13.31 649.13,13.25 649.93,13.22 650.7,13.21 651.46,13.2 652.19,13.21 652.91,13.21 653.6,13.2 654.3,13.19 655,13.19 655.71,13.19 656.38,13.19 657.01,13.19 657.57,13.2 658.04,13.2 658.4,13.2" fill="none" stroke="#f3a87c" stroke-width="1.2" stroke-linejoin="round" stroke-dasharray="4.6 5.2"/>
<polyline points="488.5,96.5 488.72,95.72 489.01,94.68 489.35,93.45 489.74,92.08 490.14,90.63 490.55,89.18 490.94,87.78 491.3,86.5 491.62,85.32 491.93,84.18 492.23,83.05 492.52,81.94 492.83,80.82 493.16,79.68 493.51,78.51 493.9,77.3 494.32,76.03 494.77,74.72 495.24,73.37 495.73,72 496.24,70.63 496.78,69.28 497.33,67.97 497.9,66.7 498.49,65.48 499.1,64.28 499.74,63.11 500.39,61.96 501.06,60.83 501.75,59.71 502.47,58.6 503.2,57.5 503.95,56.41 504.73,55.33 505.52,54.27 506.34,53.23 507.17,52.19 508.03,51.15 508.9,50.13 509.8,49.1 510.73,48.07 511.68,47.03 512.67,45.98 513.67,44.95 514.68,43.94 515.69,42.95 516.7,42 517.7,41.1 518.67,40.25 519.61,39.46 520.55,38.71 521.49,37.98 522.45,37.27 523.44,36.56 524.49,35.84 525.6,35.1 526.79,34.33 528.04,33.53 529.34,32.73 530.68,31.93 532.04,31.14 533.41,30.38 534.76,29.66 536.1,29 537.42,28.38 538.74,27.8 540.07,27.25 541.39,26.73 542.72,26.25 544.05,25.8 545.37,25.38 546.7,25 548.04,24.66 549.41,24.37 550.79,24.12 552.17,23.9 553.52,23.71 554.84,23.53 556.1,23.36 557.3,23.2 558.4,23.05 559.4,22.91 560.35,22.79 561.26,22.69 562.17,22.6 563.11,22.52 564.11,22.45 565.2,22.4 566.43,22.36 567.77,22.32 569.19,22.31 570.64,22.3 572.06,22.31 573.41,22.32 574.64,22.36 575.7,22.4 576.55,22.45 577.21,22.51 577.75,22.58 578.22,22.66 578.68,22.75 579.19,22.88 579.81,23.02 580.6,23.2 581.57,23.41 582.66,23.66 583.85,23.94 585.09,24.24 586.37,24.56 587.63,24.88 588.85,25.19 590,25.5 591.08,25.79 592.13,26.08 593.16,26.37 594.18,26.66 595.18,26.97 596.18,27.29 597.18,27.63 598.2,28 599.23,28.41 600.25,28.85 601.28,29.33 602.3,29.81 603.33,30.3 604.35,30.79 605.38,31.26 606.4,31.7 607.44,32.13 608.5,32.57 609.56,33 610.62,33.42 611.67,33.82 612.69,34.19 613.67,34.52 614.6,34.8 615.49,35.03 616.34,35.22 617.16,35.37 617.96,35.49 618.72,35.58 619.44,35.66 620.14,35.73 620.8,35.8 621.42,35.85 622,35.87 622.54,35.87 623.04,35.86 623.53,35.84 623.99,35.84 624.45,35.86 624.9,35.9 625.34,35.97 625.77,36.04 626.18,36.13 626.58,36.22 626.96,36.34 627.33,36.47 627.67,36.62 628,36.8 628.3,36.99 628.58,37.19 628.83,37.41 629.06,37.65 629.29,37.91 629.52,38.21 629.75,38.53 630,38.9 630.26,39.3 630.53,39.71 630.81,40.15 631.09,40.63 631.36,41.15 631.62,41.71 631.87,42.33 632.1,43 632.31,43.74 632.5,44.56 632.68,45.43 632.85,46.34 633.01,47.29 633.17,48.26 633.33,49.23 633.5,50.2 633.67,51.18 633.83,52.18 633.99,53.2 634.15,54.24 634.31,55.28 634.47,56.33 634.63,57.37 634.8,58.4 634.97,59.42 635.15,60.45 635.34,61.47 635.52,62.5 635.7,63.52 635.88,64.55 636.04,65.57 636.2,66.6 636.34,67.59 636.48,68.53 636.6,69.46 636.73,70.39 636.84,71.36 636.96,72.4 637.08,73.54 637.2,74.8 637.32,76.21 637.43,77.76 637.54,79.41 637.66,81.12 637.77,82.87 637.9,84.62 638.04,86.34 638.2,88 638.38,89.62 638.57,91.24 638.78,92.86 639,94.47 639.22,96.06 639.45,97.61 639.68,99.13 639.9,100.6 640.12,102.01 640.34,103.37 640.55,104.69 640.77,105.97 641,107.25 641.23,108.52 641.46,109.8 641.7,111.1 641.95,112.42 642.2,113.75 642.46,115.07 642.72,116.4 642.98,117.73 643.25,119.05 643.53,120.38 643.8,121.7 644.07,123.03 644.34,124.37 644.62,125.72 644.89,127.06 645.18,128.39 645.47,129.7 645.78,130.97 646.1,132.2 646.43,133.41 646.78,134.62 647.13,135.82 647.49,136.98 647.87,138.1 648.26,139.15 648.67,140.12 649.1,141 649.55,141.78 650.02,142.48 650.51,143.11 651.01,143.68 651.53,144.18 652.05,144.63 652.57,145.03 653.1,145.4 653.65,145.71 654.25,145.95 654.87,146.14 655.49,146.28 656.09,146.38 656.64,146.46 657.11,146.53 657.5,146.6 657.79,146.66 657.99,146.68 658.13,146.69 658.23,146.67 658.28,146.65 658.32,146.63 658.35,146.61 658.4,146.6" fill="none" stroke="#5b8fe6" stroke-width="1.0" stroke-linejoin="round" />
<polyline points="488.5,95.6 488.72,94.82 489.01,93.78 489.35,92.55 489.74,91.17 490.14,89.73 490.55,88.28 490.94,86.88 491.3,85.6 491.62,84.42 491.93,83.28 492.23,82.15 492.52,81.04 492.83,79.92 493.16,78.78 493.51,77.61 493.9,76.4 494.32,75.13 494.77,73.82 495.24,72.47 495.73,71.1 496.24,69.73 496.78,68.38 497.33,67.07 497.9,65.8 498.49,64.58 499.1,63.38 499.74,62.21 500.39,61.06 501.06,59.93 501.75,58.81 502.47,57.7 503.2,56.6 503.95,55.51 504.73,54.43 505.52,53.37 506.34,52.33 507.17,51.29 508.03,50.25 508.9,49.23 509.8,48.2 510.73,47.17 511.68,46.13 512.67,45.08 513.67,44.05 514.68,43.04 515.69,42.05 516.7,41.1 517.7,40.2 518.67,39.35 519.61,38.56 520.55,37.81 521.49,37.08 522.45,36.37 523.44,35.66 524.49,34.94 525.6,34.2 526.79,33.43 528.04,32.63 529.34,31.83 530.68,31.03 532.04,30.24 533.41,29.48 534.76,28.76 536.1,28.1 537.42,27.48 538.74,26.9 540.07,26.35 541.39,25.83 542.72,25.35 544.05,24.9 545.37,24.48 546.7,24.1 548.04,23.76 549.41,23.47 550.79,23.22 552.17,23 553.52,22.81 554.84,22.63 556.1,22.46 557.3,22.3 558.4,22.15 559.4,22.01 560.35,21.89 561.26,21.79 562.17,21.7 563.11,21.62 564.11,21.55 565.2,21.5 566.43,21.46 567.77,21.42 569.19,21.41 570.64,21.4 572.06,21.41 573.41,21.43 574.64,21.46 575.7,21.5 576.55,21.55 577.21,21.61 577.75,21.68 578.22,21.76 578.68,21.85 579.19,21.98 579.81,22.12 580.6,22.3 581.57,22.51 582.66,22.76 583.85,23.04 585.09,23.34 586.37,23.66 587.63,23.98 588.85,24.29 590,24.6 591.08,24.89 592.13,25.18 593.16,25.47 594.18,25.76 595.18,26.07 596.18,26.39 597.18,26.73 598.2,27.1 599.23,27.51 600.25,27.95 601.28,28.43 602.3,28.91 603.33,29.4 604.35,29.89 605.38,30.36 606.4,30.8 607.44,31.23 608.5,31.67 609.56,32.1 610.62,32.52 611.67,32.92 612.69,33.29 613.67,33.62 614.6,33.9 615.49,34.13 616.34,34.32 617.16,34.47 617.96,34.59 618.72,34.68 619.44,34.76 620.14,34.83 620.8,34.9 621.41,34.95 621.97,34.97 622.49,34.97 622.98,34.96 623.45,34.94 623.92,34.94 624.4,34.96 624.9,35 625.44,35.07 625.99,35.14 626.56,35.23 627.13,35.32 627.68,35.44 628.2,35.57 628.68,35.72 629.1,35.9 629.45,36.09 629.75,36.27 630.01,36.47 630.23,36.69 630.44,36.95 630.64,37.24 630.86,37.59 631.1,38 631.36,38.47 631.63,38.99 631.91,39.57 632.19,40.18 632.46,40.84 632.72,41.53 632.97,42.25 633.2,43 633.41,43.79 633.6,44.62 633.78,45.49 633.95,46.4 634.11,47.33 634.27,48.28 634.43,49.24 634.6,50.2 634.77,51.18 634.93,52.18 635.09,53.2 635.25,54.24 635.41,55.28 635.57,56.33 635.73,57.37 635.9,58.4 636.07,59.42 636.25,60.45 636.44,61.47 636.62,62.5 636.8,63.52 636.98,64.55 637.14,65.57 637.3,66.6 637.44,67.59 637.58,68.53 637.7,69.46 637.83,70.39 637.94,71.36 638.06,72.4 638.18,73.54 638.3,74.8 638.42,76.21 638.53,77.76 638.64,79.41 638.76,81.12 638.87,82.87 639,84.62 639.14,86.34 639.3,88 639.48,89.62 639.67,91.24 639.88,92.86 640.1,94.47 640.32,96.06 640.55,97.61 640.78,99.13 641,100.6 641.22,102.01 641.44,103.37 641.65,104.69 641.88,105.97 642.1,107.25 642.33,108.52 642.56,109.8 642.8,111.1 643.05,112.42 643.3,113.75 643.56,115.07 643.82,116.4 644.08,117.73 644.35,119.05 644.63,120.38 644.9,121.7 645.17,123.03 645.44,124.37 645.72,125.72 645.99,127.06 646.28,128.39 646.57,129.7 646.88,130.97 647.2,132.2 647.53,133.41 647.88,134.62 648.23,135.82 648.59,136.98 648.97,138.1 649.36,139.15 649.77,140.12 650.2,141 650.66,141.78 651.15,142.48 651.66,143.11 652.18,143.68 652.71,144.18 653.23,144.63 653.73,145.03 654.2,145.4 654.66,145.71 655.13,145.95 655.59,146.14 656.04,146.28 656.47,146.38 656.86,146.46 657.21,146.53 657.5,146.6 657.73,146.66 657.91,146.68 658.05,146.69 658.16,146.67 658.23,146.65 658.29,146.63 658.35,146.61 658.4,146.6" fill="none" stroke="#f3a87c" stroke-width="1.1" stroke-linejoin="round" />
<line x1="488" y1="10.5" x2="658.9" y2="10.5" stroke="#454545" stroke-width="1.0" />
<line x1="488.5" y1="10.5" x2="488.5" y2="146.6" stroke="#454545" stroke-width="1.0" />
<line x1="488.5" y1="146.6" x2="658.4" y2="146.6" stroke="#a3a3a3" stroke-width="1.5" />
<line x1="658.4" y1="10.5" x2="658.4" y2="146.6" stroke="#454545" stroke-width="1.0" />
<line x1="486.1" y1="146.6" x2="488.5" y2="146.6" stroke="#3a3a3a" stroke-width="1.0" />
<text x="483.9" y="149.8" font-size="9" text-anchor="end" fill="#1a1a1a" stroke="#1a1a1a" >0</text>
<line x1="486.1" y1="119.38" x2="488.5" y2="119.38" stroke="#3a3a3a" stroke-width="1.0" />
<text x="483.9" y="122.58" font-size="9" text-anchor="end" fill="#1a1a1a" stroke="#1a1a1a" >20</text>
<line x1="486.1" y1="92.16" x2="488.5" y2="92.16" stroke="#3a3a3a" stroke-width="1.0" />
<text x="483.9" y="95.36" font-size="9" text-anchor="end" fill="#1a1a1a" stroke="#1a1a1a" >40</text>
<line x1="486.1" y1="64.94" x2="488.5" y2="64.94" stroke="#3a3a3a" stroke-width="1.0" />
<text x="483.9" y="68.14" font-size="9" text-anchor="end" fill="#1a1a1a" stroke="#1a1a1a" >60</text>
<line x1="486.1" y1="37.72" x2="488.5" y2="37.72" stroke="#3a3a3a" stroke-width="1.0" />
<text x="483.9" y="40.92" font-size="9" text-anchor="end" fill="#1a1a1a" stroke="#1a1a1a" >80</text>
<line x1="486.1" y1="10.5" x2="488.5" y2="10.5" stroke="#3a3a3a" stroke-width="1.0" />
<text x="483.9" y="13.7" font-size="9" text-anchor="end" fill="#1a1a1a" stroke="#1a1a1a" >100</text>
<line x1="487.1" y1="132.99" x2="488.5" y2="132.99" stroke="#3a3a3a" stroke-width="1.0" />
<line x1="487.1" y1="105.77" x2="488.5" y2="105.77" stroke="#3a3a3a" stroke-width="1.0" />
<line x1="487.1" y1="78.55" x2="488.5" y2="78.55" stroke="#3a3a3a" stroke-width="1.0" />
<line x1="487.1" y1="51.33" x2="488.5" y2="51.33" stroke="#3a3a3a" stroke-width="1.0" />
<line x1="487.1" y1="24.11" x2="488.5" y2="24.11" stroke="#3a3a3a" stroke-width="1.0" />
<line x1="658.4" y1="146.7" x2="660.8" y2="146.7" stroke="#3a3a3a" stroke-width="1.0" />
<text x="663" y="149.9" font-size="9" text-anchor="start" fill="#1a1a1a" stroke="#1a1a1a" >0</text>
<line x1="658.4" y1="112.9" x2="660.8" y2="112.9" stroke="#3a3a3a" stroke-width="1.0" />
<text x="663" y="116.1" font-size="9" text-anchor="start" fill="#1a1a1a" stroke="#1a1a1a" >4</text>
<line x1="658.4" y1="79.1" x2="660.8" y2="79.1" stroke="#3a3a3a" stroke-width="1.0" />
<text x="663" y="82.3" font-size="9" text-anchor="start" fill="#1a1a1a" stroke="#1a1a1a" >8</text>
<line x1="658.4" y1="45.3" x2="660.8" y2="45.3" stroke="#3a3a3a" stroke-width="1.0" />
<text x="663" y="48.5" font-size="9" text-anchor="start" fill="#1a1a1a" stroke="#1a1a1a" >12</text>
<line x1="658.4" y1="11.5" x2="660.8" y2="11.5" stroke="#3a3a3a" stroke-width="1.0" />
<text x="663" y="14.7" font-size="9" text-anchor="start" fill="#1a1a1a" stroke="#1a1a1a" >16</text>
<line x1="658.4" y1="129.8" x2="659.8" y2="129.8" stroke="#3a3a3a" stroke-width="1.0" />
<line x1="658.4" y1="96" x2="659.8" y2="96" stroke="#3a3a3a" stroke-width="1.0" />
<line x1="658.4" y1="62.2" x2="659.8" y2="62.2" stroke="#3a3a3a" stroke-width="1.0" />
<line x1="658.4" y1="28.4" x2="659.8" y2="28.4" stroke="#3a3a3a" stroke-width="1.0" />
<line x1="488.5" y1="146.6" x2="488.5" y2="149" stroke="#3a3a3a" stroke-width="1.0" />
<text x="488.5" y="158.6" font-size="9" text-anchor="middle" fill="#1a1a1a" stroke="#1a1a1a" >300</text>
<line x1="528.95" y1="146.6" x2="528.95" y2="149" stroke="#3a3a3a" stroke-width="1.0" />
<text x="528.95" y="158.6" font-size="9" text-anchor="middle" fill="#1a1a1a" stroke="#1a1a1a" >400</text>
<line x1="569.4" y1="146.6" x2="569.4" y2="149" stroke="#3a3a3a" stroke-width="1.0" />
<text x="569.4" y="158.6" font-size="9" text-anchor="middle" fill="#1a1a1a" stroke="#1a1a1a" >500</text>
<line x1="609.85" y1="146.6" x2="609.85" y2="149" stroke="#3a3a3a" stroke-width="1.0" />
<text x="609.85" y="158.6" font-size="9" text-anchor="middle" fill="#1a1a1a" stroke="#1a1a1a" >600</text>
<line x1="650.3" y1="146.6" x2="650.3" y2="149" stroke="#3a3a3a" stroke-width="1.0" />
<text x="650.3" y="158.6" font-size="9" text-anchor="middle" fill="#1a1a1a" stroke="#1a1a1a" >700</text>
<line x1="508.73" y1="146.6" x2="508.73" y2="148" stroke="#3a3a3a" stroke-width="1.0" />
<line x1="549.17" y1="146.6" x2="549.17" y2="148" stroke="#3a3a3a" stroke-width="1.0" />
<line x1="589.62" y1="146.6" x2="589.62" y2="148" stroke="#3a3a3a" stroke-width="1.0" />
<line x1="630.08" y1="146.6" x2="630.08" y2="148" stroke="#3a3a3a" stroke-width="1.0" />
<text x="573.3" y="168.8" font-size="9" text-anchor="middle" fill="#1a1a1a" stroke="#1a1a1a" >&#955; (nm)</text>
<text x="465.2" y="78.3" font-size="9" text-anchor="middle" fill="#1a1a1a" stroke="#1a1a1a" transform="rotate(-90 465.2 78.3)" >EQE (%)</text>
<text x="682.4" y="78.3" font-size="9" text-anchor="middle" fill="#1a1a1a" stroke="#1a1a1a" transform="rotate(-90 682.4 78.3)" >Integrated <tspan font-style="italic">J</tspan><tspan font-size="6" dy="1.8">sc</tspan><tspan dy="-1.8"> (mA/cm</tspan><tspan dy="-3.4" font-size="6.5">2</tspan><tspan dy="3.4">)</tspan></text>
<text x="450.9" y="12.9" font-size="16.5" text-anchor="start" fill="#1a1a1a" stroke="#1a1a1a" >c</text>
<line x1="490.2" y1="16.6" x2="506" y2="16.6" stroke="#5b8fe6" stroke-width="1.3" />
<line x1="490.2" y1="25.6" x2="506" y2="25.6" stroke="#f3a87c" stroke-width="1.3" />
<text x="507.8" y="19.2" font-size="7" text-anchor="start" fill="#1a1a1a" stroke="#1a1a1a" >Control</text>
<text x="507.8" y="28.1" font-size="7" text-anchor="start" fill="#1a1a1a" stroke="#1a1a1a" >Target</text>
<line x1="592.4" y1="95.4" x2="607.5" y2="95.4" stroke="#5b8fe6" stroke-width="1.2" stroke-dasharray="4.7 5.6"/>
<line x1="592.4" y1="104.2" x2="607.5" y2="104.2" stroke="#f3a87c" stroke-width="1.2" stroke-dasharray="4.7 5.6"/>
<text x="610.6" y="97.9" font-size="7" text-anchor="start" fill="#1a1a1a" stroke="#1a1a1a" >Control</text>
<text x="610.6" y="106.7" font-size="7" text-anchor="start" fill="#1a1a1a" stroke="#1a1a1a" >Target</text>
<text x="548" y="61.5" font-size="7.1" text-anchor="middle" fill="#5b8fe6" >Control</text>
<text x="500.4" y="71.2" font-size="7.1" text-anchor="start" fill="#5b8fe6" >Integrated <tspan font-style="italic">J</tspan><tspan font-size="4.6" dy="1.5">sc</tspan><tspan dy="-1.5"> = 15.72 mA/cm</tspan><tspan font-size="4.6" dy="-2.6">2</tspan></text>
<text x="589" y="132.6" font-size="7.1" text-anchor="middle" fill="#f3a87c" >Target</text>
<text x="542" y="142.3" font-size="7.1" text-anchor="start" fill="#f3a87c" >Integrated <tspan font-style="italic">J</tspan><tspan font-size="4.6" dy="1.5">sc</tspan><tspan dy="-1.5"> = 15.85 mA/cm</tspan><tspan font-size="4.6" dy="-2.6">2</tspan></text>
</g>
<g id="pd">
<line x1="58.48" y1="270.3" x2="58.48" y2="282.3" stroke="#5b8fe6" stroke-width="0.8" />
<line x1="58.48" y1="300.8" x2="58.48" y2="313.1" stroke="#5b8fe6" stroke-width="0.8" />
<line x1="49.23" y1="270.3" x2="67.72" y2="270.3" stroke="#5b8fe6" stroke-width="0.8" />
<line x1="49.23" y1="313.1" x2="67.72" y2="313.1" stroke="#5b8fe6" stroke-width="0.8" />
<rect x="39.98" y="282.3" width="37.0" height="18.5" fill="none" stroke="#5b8fe6" stroke-width="0.8"/>
<line x1="39.98" y1="289.2" x2="76.97" y2="289.2" stroke="#5b8fe6" stroke-width="0.8" />
<circle cx="58.7" cy="270.3" r="2.25" fill="#fff" stroke="#5b8fe6" stroke-width="0.7"/>
<circle cx="54" cy="277.1" r="2.25" fill="#fff" stroke="#5b8fe6" stroke-width="0.7"/>
<circle cx="51.9" cy="280.3" r="2.25" fill="#fff" stroke="#5b8fe6" stroke-width="0.7"/>
<circle cx="56" cy="281" r="2.25" fill="#fff" stroke="#5b8fe6" stroke-width="0.7"/>
<circle cx="60" cy="282.4" r="2.25" fill="#fff" stroke="#5b8fe6" stroke-width="0.7"/>
<circle cx="61.2" cy="283" r="2.25" fill="#fff" stroke="#5b8fe6" stroke-width="0.7"/>
<circle cx="55.2" cy="288.4" r="2.25" fill="#fff" stroke="#5b8fe6" stroke-width="0.7"/>
<circle cx="58.9" cy="290" r="2.25" fill="#fff" stroke="#5b8fe6" stroke-width="0.7"/>
<circle cx="61.3" cy="292.4" r="2.25" fill="#fff" stroke="#5b8fe6" stroke-width="0.7"/>
<circle cx="56" cy="298" r="2.25" fill="#fff" stroke="#5b8fe6" stroke-width="0.7"/>
<circle cx="59.2" cy="299.7" r="2.25" fill="#fff" stroke="#5b8fe6" stroke-width="0.7"/>
<circle cx="52.7" cy="302.4" r="2.25" fill="#fff" stroke="#5b8fe6" stroke-width="0.7"/>
<circle cx="63.2" cy="308.5" r="2.25" fill="#fff" stroke="#5b8fe6" stroke-width="0.7"/>
<circle cx="54.4" cy="313.1" r="2.25" fill="#fff" stroke="#5b8fe6" stroke-width="0.7"/>
<line x1="116.22" y1="241.5" x2="116.22" y2="246" stroke="#f3a87c" stroke-width="0.8" />
<line x1="116.22" y1="267.3" x2="116.22" y2="273.4" stroke="#f3a87c" stroke-width="0.8" />
<line x1="106.97" y1="241.5" x2="125.47" y2="241.5" stroke="#f3a87c" stroke-width="0.8" />
<line x1="106.97" y1="273.4" x2="125.47" y2="273.4" stroke="#f3a87c" stroke-width="0.8" />
<rect x="97.72" y="246" width="37.0" height="21.3" fill="none" stroke="#f3a87c" stroke-width="0.8"/>
<line x1="97.72" y1="257.6" x2="134.72" y2="257.6" stroke="#f3a87c" stroke-width="0.8" />
<circle cx="113.9" cy="241.1" r="2.25" fill="#fff" stroke="#f3a87c" stroke-width="0.7"/>
<circle cx="119.8" cy="243.1" r="2.25" fill="#fff" stroke="#f3a87c" stroke-width="0.7"/>
<circle cx="116.6" cy="244.7" r="2.25" fill="#fff" stroke="#f3a87c" stroke-width="0.7"/>
<circle cx="115.8" cy="247.1" r="2.25" fill="#fff" stroke="#f3a87c" stroke-width="0.7"/>
<circle cx="114.5" cy="251.1" r="2.25" fill="#fff" stroke="#f3a87c" stroke-width="0.7"/>
<circle cx="115" cy="255.2" r="2.25" fill="#fff" stroke="#f3a87c" stroke-width="0.7"/>
<circle cx="121.5" cy="255.2" r="2.25" fill="#fff" stroke="#f3a87c" stroke-width="0.7"/>
<circle cx="116.1" cy="258.9" r="2.25" fill="#fff" stroke="#f3a87c" stroke-width="0.7"/>
<circle cx="117.4" cy="262.7" r="2.25" fill="#fff" stroke="#f3a87c" stroke-width="0.7"/>
<circle cx="114.5" cy="264.5" r="2.25" fill="#fff" stroke="#f3a87c" stroke-width="0.7"/>
<circle cx="112.6" cy="269.2" r="2.25" fill="#fff" stroke="#f3a87c" stroke-width="0.7"/>
<circle cx="115" cy="270.2" r="2.25" fill="#fff" stroke="#f3a87c" stroke-width="0.7"/>
<circle cx="118.7" cy="273.4" r="2.25" fill="#fff" stroke="#f3a87c" stroke-width="0.7"/>
<line x1="29.1" y1="189.4" x2="145.6" y2="189.4" stroke="#454545" stroke-width="1.0" />
<line x1="29.6" y1="189.4" x2="29.6" y2="326.6" stroke="#454545" stroke-width="1.0" />
<line x1="29.6" y1="326.6" x2="145.1" y2="326.6" stroke="#6a6a6a" stroke-width="1.2" />
<line x1="145.1" y1="189.4" x2="145.1" y2="326.6" stroke="#a3a3a3" stroke-width="1.5" />
<line x1="27.2" y1="326.6" x2="29.6" y2="326.6" stroke="#3a3a3a" stroke-width="1.0" />
<text x="25" y="329.8" font-size="9" text-anchor="end" fill="#1a1a1a" stroke="#1a1a1a" >15</text>
<line x1="27.2" y1="292.3" x2="29.6" y2="292.3" stroke="#3a3a3a" stroke-width="1.0" />
<text x="25" y="295.5" font-size="9" text-anchor="end" fill="#1a1a1a" stroke="#1a1a1a" >16</text>
<line x1="27.2" y1="258" x2="29.6" y2="258" stroke="#3a3a3a" stroke-width="1.0" />
<text x="25" y="261.2" font-size="9" text-anchor="end" fill="#1a1a1a" stroke="#1a1a1a" >17</text>
<line x1="27.2" y1="223.7" x2="29.6" y2="223.7" stroke="#3a3a3a" stroke-width="1.0" />
<text x="25" y="226.9" font-size="9" text-anchor="end" fill="#1a1a1a" stroke="#1a1a1a" >18</text>
<line x1="27.2" y1="189.4" x2="29.6" y2="189.4" stroke="#3a3a3a" stroke-width="1.0" />
<text x="25" y="192.6" font-size="9" text-anchor="end" fill="#1a1a1a" stroke="#1a1a1a" >19</text>
<line x1="28.2" y1="309.45" x2="29.6" y2="309.45" stroke="#3a3a3a" stroke-width="1.0" />
<line x1="28.2" y1="275.15" x2="29.6" y2="275.15" stroke="#3a3a3a" stroke-width="1.0" />
<line x1="28.2" y1="240.85" x2="29.6" y2="240.85" stroke="#3a3a3a" stroke-width="1.0" />
<line x1="28.2" y1="206.55" x2="29.6" y2="206.55" stroke="#3a3a3a" stroke-width="1.0" />
<line x1="58.48" y1="326.6" x2="58.48" y2="329" stroke="#3a3a3a" stroke-width="1.0" />
<text x="58.48" y="339.1" font-size="9" text-anchor="middle" fill="#1a1a1a" stroke="#1a1a1a" >Control</text>
<line x1="116.22" y1="326.6" x2="116.22" y2="329" stroke="#3a3a3a" stroke-width="1.0" />
<text x="116.22" y="339.1" font-size="9" text-anchor="middle" fill="#1a1a1a" stroke="#1a1a1a" >Target</text>
<rect x="34.2" y="192.5" width="15.9" height="8" rx="1" fill="none" stroke="#5b8fe6" stroke-width="1.0"/>
<line x1="42.15" y1="202.4" x2="42.15" y2="209.6" stroke="#5b8fe6" stroke-width="1.0" />
<line x1="39.95" y1="202.4" x2="44.35" y2="202.4" stroke="#5b8fe6" stroke-width="1.0" />
<line x1="39.95" y1="209.6" x2="44.35" y2="209.6" stroke="#5b8fe6" stroke-width="1.0" />
<line x1="37.35" y1="215.5" x2="46.95" y2="215.5" stroke="#5b8fe6" stroke-width="1.0" />
<text x="52.1" y="199" font-size="7.3" text-anchor="start" fill="#1a1a1a" stroke="#1a1a1a" >25%~75%</text>
<text x="52.1" y="208.2" font-size="7.3" text-anchor="start" fill="#1a1a1a" stroke="#1a1a1a" >Range within 1.5IQR</text>
<text x="52.1" y="217.5" font-size="7.3" text-anchor="start" fill="#1a1a1a" stroke="#1a1a1a" >Median Line</text>
<text x="12.2" y="258" font-size="9" text-anchor="middle" fill="#1a1a1a" stroke="#1a1a1a" transform="rotate(-90 12.2 258)" >PCE (%)</text>
<text x="-0.5" y="188.3" font-size="16.5" text-anchor="start" fill="#1a1a1a" stroke="#1a1a1a" >d</text>
</g>
<g id="pe">
<line x1="231.28" y1="283.5" x2="231.28" y2="286.1" stroke="#5b8fe6" stroke-width="0.8" />
<line x1="231.28" y1="298.6" x2="231.28" y2="308.6" stroke="#5b8fe6" stroke-width="0.8" />
<line x1="222.03" y1="283.5" x2="240.53" y2="283.5" stroke="#5b8fe6" stroke-width="0.8" />
<line x1="222.03" y1="308.6" x2="240.53" y2="308.6" stroke="#5b8fe6" stroke-width="0.8" />
<rect x="212.78" y="286.1" width="37.0" height="12.5" fill="none" stroke="#5b8fe6" stroke-width="0.8"/>
<line x1="212.78" y1="293.2" x2="249.78" y2="293.2" stroke="#5b8fe6" stroke-width="0.8" />
<circle cx="227" cy="283.2" r="2.25" fill="#fff" stroke="#5b8fe6" stroke-width="0.7"/>
<circle cx="231.4" cy="283.2" r="2.25" fill="#fff" stroke="#5b8fe6" stroke-width="0.7"/>
<circle cx="224.5" cy="287.9" r="2.25" fill="#fff" stroke="#5b8fe6" stroke-width="0.7"/>
<circle cx="232.9" cy="286.4" r="2.25" fill="#fff" stroke="#5b8fe6" stroke-width="0.7"/>
<circle cx="230" cy="292" r="2.25" fill="#fff" stroke="#5b8fe6" stroke-width="0.7"/>
<circle cx="234.3" cy="292" r="2.25" fill="#fff" stroke="#5b8fe6" stroke-width="0.7"/>
<circle cx="228.5" cy="295" r="2.25" fill="#fff" stroke="#5b8fe6" stroke-width="0.7"/>
<circle cx="231.4" cy="296.4" r="2.25" fill="#fff" stroke="#5b8fe6" stroke-width="0.7"/>
<circle cx="228.5" cy="298.2" r="2.25" fill="#fff" stroke="#5b8fe6" stroke-width="0.7"/>
<circle cx="234.3" cy="298.2" r="2.25" fill="#fff" stroke="#5b8fe6" stroke-width="0.7"/>
<circle cx="236.5" cy="299.3" r="2.25" fill="#fff" stroke="#5b8fe6" stroke-width="0.7"/>
<circle cx="232.1" cy="303" r="2.25" fill="#fff" stroke="#5b8fe6" stroke-width="0.7"/>
<circle cx="227" cy="308.4" r="2.25" fill="#fff" stroke="#5b8fe6" stroke-width="0.7"/>
<line x1="289.23" y1="231" x2="289.23" y2="235.4" stroke="#f3a87c" stroke-width="0.8" />
<line x1="289.23" y1="255.2" x2="289.23" y2="260" stroke="#f3a87c" stroke-width="0.8" />
<line x1="279.98" y1="231" x2="298.48" y2="231" stroke="#f3a87c" stroke-width="0.8" />
<line x1="279.98" y1="260" x2="298.48" y2="260" stroke="#f3a87c" stroke-width="0.8" />
<rect x="270.73" y="235.4" width="37.0" height="19.8" fill="none" stroke="#f3a87c" stroke-width="0.8"/>
<line x1="270.73" y1="245.4" x2="307.73" y2="245.4" stroke="#f3a87c" stroke-width="0.8" />
<circle cx="287" cy="231" r="2.25" fill="#fff" stroke="#f3a87c" stroke-width="0.7"/>
<circle cx="285.5" cy="234.4" r="2.25" fill="#fff" stroke="#f3a87c" stroke-width="0.7"/>
<circle cx="290.7" cy="234" r="2.25" fill="#fff" stroke="#f3a87c" stroke-width="0.7"/>
<circle cx="293.6" cy="234.4" r="2.25" fill="#fff" stroke="#f3a87c" stroke-width="0.7"/>
<circle cx="291.7" cy="237.6" r="2.25" fill="#fff" stroke="#f3a87c" stroke-width="0.7"/>
<circle cx="287.3" cy="240.5" r="2.25" fill="#fff" stroke="#f3a87c" stroke-width="0.7"/>
<circle cx="288.2" cy="243.5" r="2.25" fill="#fff" stroke="#f3a87c" stroke-width="0.7"/>
<circle cx="294.3" cy="247.1" r="2.25" fill="#fff" stroke="#f3a87c" stroke-width="0.7"/>
<circle cx="287.3" cy="250" r="2.25" fill="#fff" stroke="#f3a87c" stroke-width="0.7"/>
<circle cx="289.2" cy="252.3" r="2.25" fill="#fff" stroke="#f3a87c" stroke-width="0.7"/>
<circle cx="292.1" cy="254.9" r="2.25" fill="#fff" stroke="#f3a87c" stroke-width="0.7"/>
<circle cx="287.7" cy="255.6" r="2.25" fill="#fff" stroke="#f3a87c" stroke-width="0.7"/>
<circle cx="290" cy="260" r="2.25" fill="#fff" stroke="#f3a87c" stroke-width="0.7"/>
<line x1="201.8" y1="189.4" x2="318.7" y2="189.4" stroke="#454545" stroke-width="1.0" />
<line x1="202.3" y1="189.4" x2="202.3" y2="326.6" stroke="#454545" stroke-width="1.0" />
<line x1="202.3" y1="326.6" x2="318.2" y2="326.6" stroke="#6a6a6a" stroke-width="1.2" />
<line x1="318.2" y1="189.4" x2="318.2" y2="326.6" stroke="#a3a3a3" stroke-width="1.5" />
<line x1="199.9" y1="326.6" x2="202.3" y2="326.6" stroke="#3a3a3a" stroke-width="1.0" />
<text x="197.7" y="329.8" font-size="9" text-anchor="end" fill="#1a1a1a" stroke="#1a1a1a" >1.26</text>
<line x1="199.9" y1="292.3" x2="202.3" y2="292.3" stroke="#3a3a3a" stroke-width="1.0" />
<text x="197.7" y="295.5" font-size="9" text-anchor="end" fill="#1a1a1a" stroke="#1a1a1a" >1.28</text>
<line x1="199.9" y1="258" x2="202.3" y2="258" stroke="#3a3a3a" stroke-width="1.0" />
<text x="197.7" y="261.2" font-size="9" text-anchor="end" fill="#1a1a1a" stroke="#1a1a1a" >1.30</text>
<line x1="199.9" y1="223.7" x2="202.3" y2="223.7" stroke="#3a3a3a" stroke-width="1.0" />
<text x="197.7" y="226.9" font-size="9" text-anchor="end" fill="#1a1a1a" stroke="#1a1a1a" >1.32</text>
<line x1="199.9" y1="189.4" x2="202.3" y2="189.4" stroke="#3a3a3a" stroke-width="1.0" />
<text x="197.7" y="192.6" font-size="9" text-anchor="end" fill="#1a1a1a" stroke="#1a1a1a" >1.34</text>
<line x1="200.9" y1="309.45" x2="202.3" y2="309.45" stroke="#3a3a3a" stroke-width="1.0" />
<line x1="200.9" y1="275.15" x2="202.3" y2="275.15" stroke="#3a3a3a" stroke-width="1.0" />
<line x1="200.9" y1="240.85" x2="202.3" y2="240.85" stroke="#3a3a3a" stroke-width="1.0" />
<line x1="200.9" y1="206.55" x2="202.3" y2="206.55" stroke="#3a3a3a" stroke-width="1.0" />
<line x1="231.28" y1="326.6" x2="231.28" y2="329" stroke="#3a3a3a" stroke-width="1.0" />
<text x="231.28" y="339.1" font-size="9" text-anchor="middle" fill="#1a1a1a" stroke="#1a1a1a" >Control</text>
<line x1="289.23" y1="326.6" x2="289.23" y2="329" stroke="#3a3a3a" stroke-width="1.0" />
<text x="289.23" y="339.1" font-size="9" text-anchor="middle" fill="#1a1a1a" stroke="#1a1a1a" >Target</text>
<rect x="205.2" y="192.5" width="16.4" height="8" rx="1" fill="none" stroke="#5b8fe6" stroke-width="1.0"/>
<line x1="213.4" y1="202.4" x2="213.4" y2="209.6" stroke="#5b8fe6" stroke-width="1.0" />
<line x1="211.2" y1="202.4" x2="215.6" y2="202.4" stroke="#5b8fe6" stroke-width="1.0" />
<line x1="211.2" y1="209.6" x2="215.6" y2="209.6" stroke="#5b8fe6" stroke-width="1.0" />
<line x1="208.6" y1="215.5" x2="218.2" y2="215.5" stroke="#5b8fe6" stroke-width="1.0" />
<text x="223.6" y="199" font-size="7.3" text-anchor="start" fill="#1a1a1a" stroke="#1a1a1a" >25%~75%</text>
<text x="223.6" y="208.2" font-size="7.3" text-anchor="start" fill="#1a1a1a" stroke="#1a1a1a" >Range within 1.5IQR</text>
<text x="223.6" y="217.5" font-size="7.3" text-anchor="start" fill="#1a1a1a" stroke="#1a1a1a" >Median Line</text>
<text x="176" y="258" font-size="9" text-anchor="middle" fill="#1a1a1a" stroke="#1a1a1a" transform="rotate(-90 176 258)" >Voc (V)</text>
<text x="157.3" y="188.7" font-size="16.5" text-anchor="start" fill="#1a1a1a" stroke="#1a1a1a" >e</text>
</g>
<g id="pf">
<line x1="394.3" y1="239.3" x2="394.3" y2="249" stroke="#5b8fe6" stroke-width="0.8" />
<line x1="394.3" y1="288.2" x2="394.3" y2="312.8" stroke="#5b8fe6" stroke-width="0.8" />
<line x1="385.05" y1="239.3" x2="403.55" y2="239.3" stroke="#5b8fe6" stroke-width="0.8" />
<line x1="385.05" y1="312.8" x2="403.55" y2="312.8" stroke="#5b8fe6" stroke-width="0.8" />
<rect x="375.8" y="249" width="37.0" height="39.2" fill="none" stroke="#5b8fe6" stroke-width="0.8"/>
<line x1="375.8" y1="264.9" x2="412.8" y2="264.9" stroke="#5b8fe6" stroke-width="0.8" />
<circle cx="396.5" cy="239.3" r="2.25" fill="#fff" stroke="#5b8fe6" stroke-width="0.7"/>
<circle cx="394.3" cy="243.2" r="2.25" fill="#fff" stroke="#5b8fe6" stroke-width="0.7"/>
<circle cx="388.5" cy="246.4" r="2.25" fill="#fff" stroke="#5b8fe6" stroke-width="0.7"/>
<circle cx="396.5" cy="246.4" r="2.25" fill="#fff" stroke="#5b8fe6" stroke-width="0.7"/>
<circle cx="397.2" cy="251.2" r="2.25" fill="#fff" stroke="#5b8fe6" stroke-width="0.7"/>
<circle cx="391.2" cy="255.1" r="2.25" fill="#fff" stroke="#5b8fe6" stroke-width="0.7"/>
<circle cx="390.6" cy="261.7" r="2.25" fill="#fff" stroke="#5b8fe6" stroke-width="0.7"/>
<circle cx="394.6" cy="261.7" r="2.25" fill="#fff" stroke="#5b8fe6" stroke-width="0.7"/>
<circle cx="391.2" cy="265.7" r="2.25" fill="#fff" stroke="#5b8fe6" stroke-width="0.7"/>
<circle cx="393.3" cy="267" r="2.25" fill="#fff" stroke="#5b8fe6" stroke-width="0.7"/>
<circle cx="392" cy="271.5" r="2.25" fill="#fff" stroke="#5b8fe6" stroke-width="0.7"/>
<circle cx="393.3" cy="284.2" r="2.25" fill="#fff" stroke="#5b8fe6" stroke-width="0.7"/>
<circle cx="395.1" cy="293" r="2.25" fill="#fff" stroke="#5b8fe6" stroke-width="0.7"/>
<circle cx="390.6" cy="302.2" r="2.25" fill="#fff" stroke="#5b8fe6" stroke-width="0.7"/>
<circle cx="399.1" cy="301.4" r="2.25" fill="#fff" stroke="#5b8fe6" stroke-width="0.7"/>
<circle cx="387.2" cy="312.8" r="2.25" fill="#fff" stroke="#5b8fe6" stroke-width="0.7"/>
<line x1="452.1" y1="214.7" x2="452.1" y2="221.3" stroke="#f3a87c" stroke-width="0.8" />
<line x1="452.1" y1="243.8" x2="452.1" y2="256.1" stroke="#f3a87c" stroke-width="0.8" />
<line x1="442.85" y1="214.7" x2="461.35" y2="214.7" stroke="#f3a87c" stroke-width="0.8" />
<line x1="442.85" y1="256.1" x2="461.35" y2="256.1" stroke="#f3a87c" stroke-width="0.8" />
<rect x="433.6" y="221.3" width="37.0" height="22.5" fill="none" stroke="#f3a87c" stroke-width="0.8"/>
<line x1="433.6" y1="232.7" x2="470.6" y2="232.7" stroke="#f3a87c" stroke-width="0.8" />
<circle cx="456.3" cy="214.3" r="2.25" fill="#fff" stroke="#f3a87c" stroke-width="0.7"/>
<circle cx="454.4" cy="215.2" r="2.25" fill="#fff" stroke="#f3a87c" stroke-width="0.7"/>
<circle cx="450" cy="217.1" r="2.25" fill="#fff" stroke="#f3a87c" stroke-width="0.7"/>
<circle cx="450.6" cy="219" r="2.25" fill="#fff" stroke="#f3a87c" stroke-width="0.7"/>
<circle cx="457.6" cy="222.5" r="2.25" fill="#fff" stroke="#f3a87c" stroke-width="0.7"/>
<circle cx="452.5" cy="226.3" r="2.25" fill="#fff" stroke="#f3a87c" stroke-width="0.7"/>
<circle cx="451.3" cy="230.1" r="2.25" fill="#fff" stroke="#f3a87c" stroke-width="0.7"/>
<circle cx="453.8" cy="231.4" r="2.25" fill="#fff" stroke="#f3a87c" stroke-width="0.7"/>
<circle cx="450.9" cy="233.3" r="2.25" fill="#fff" stroke="#f3a87c" stroke-width="0.7"/>
<circle cx="452.5" cy="234.3" r="2.25" fill="#fff" stroke="#f3a87c" stroke-width="0.7"/>
<circle cx="450.6" cy="236.2" r="2.25" fill="#fff" stroke="#f3a87c" stroke-width="0.7"/>
<circle cx="452.5" cy="237.1" r="2.25" fill="#fff" stroke="#f3a87c" stroke-width="0.7"/>
<circle cx="448.1" cy="243.4" r="2.25" fill="#fff" stroke="#f3a87c" stroke-width="0.7"/>
<circle cx="452.5" cy="243.4" r="2.25" fill="#fff" stroke="#f3a87c" stroke-width="0.7"/>
<circle cx="450.9" cy="251" r="2.25" fill="#fff" stroke="#f3a87c" stroke-width="0.7"/>
<circle cx="450.6" cy="253.3" r="2.25" fill="#fff" stroke="#f3a87c" stroke-width="0.7"/>
<circle cx="450.6" cy="256.1" r="2.25" fill="#fff" stroke="#f3a87c" stroke-width="0.7"/>
<line x1="364.9" y1="189.4" x2="481.5" y2="189.4" stroke="#454545" stroke-width="1.0" />
<line x1="365.4" y1="189.4" x2="365.4" y2="326.6" stroke="#454545" stroke-width="1.0" />
<line x1="365.4" y1="326.6" x2="481" y2="326.6" stroke="#6a6a6a" stroke-width="1.2" />
<line x1="481" y1="189.4" x2="481" y2="326.6" stroke="#a3a3a3" stroke-width="1.5" />
<line x1="363" y1="326.6" x2="365.4" y2="326.6" stroke="#3a3a3a" stroke-width="1.0" />
<text x="360.8" y="329.8" font-size="9" text-anchor="end" fill="#1a1a1a" stroke="#1a1a1a" >75</text>
<line x1="363" y1="280.87" x2="365.4" y2="280.87" stroke="#3a3a3a" stroke-width="1.0" />
<text x="360.8" y="284.07" font-size="9" text-anchor="end" fill="#1a1a1a" stroke="#1a1a1a" >78</text>
<line x1="363" y1="235.13" x2="365.4" y2="235.13" stroke="#3a3a3a" stroke-width="1.0" />
<text x="360.8" y="238.33" font-size="9" text-anchor="end" fill="#1a1a1a" stroke="#1a1a1a" >81</text>
<line x1="363" y1="189.4" x2="365.4" y2="189.4" stroke="#3a3a3a" stroke-width="1.0" />
<text x="360.8" y="192.6" font-size="9" text-anchor="end" fill="#1a1a1a" stroke="#1a1a1a" >84</text>
<line x1="364" y1="303.73" x2="365.4" y2="303.73" stroke="#3a3a3a" stroke-width="1.0" />
<line x1="364" y1="258" x2="365.4" y2="258" stroke="#3a3a3a" stroke-width="1.0" />
<line x1="364" y1="212.27" x2="365.4" y2="212.27" stroke="#3a3a3a" stroke-width="1.0" />
<line x1="394.3" y1="326.6" x2="394.3" y2="329" stroke="#3a3a3a" stroke-width="1.0" />
<text x="394.3" y="339.1" font-size="9" text-anchor="middle" fill="#1a1a1a" stroke="#1a1a1a" >Control</text>
<line x1="452.1" y1="326.6" x2="452.1" y2="329" stroke="#3a3a3a" stroke-width="1.0" />
<text x="452.1" y="339.1" font-size="9" text-anchor="middle" fill="#1a1a1a" stroke="#1a1a1a" >Target</text>
<rect x="368.8" y="192.5" width="15.9" height="8" rx="1" fill="none" stroke="#5b8fe6" stroke-width="1.0"/>
<line x1="376.75" y1="202.4" x2="376.75" y2="209.6" stroke="#5b8fe6" stroke-width="1.0" />
<line x1="374.55" y1="202.4" x2="378.95" y2="202.4" stroke="#5b8fe6" stroke-width="1.0" />
<line x1="374.55" y1="209.6" x2="378.95" y2="209.6" stroke="#5b8fe6" stroke-width="1.0" />
<line x1="371.95" y1="215.5" x2="381.55" y2="215.5" stroke="#5b8fe6" stroke-width="1.0" />
<text x="386.7" y="199" font-size="7.3" text-anchor="start" fill="#1a1a1a" stroke="#1a1a1a" >25%~75%</text>
<text x="386.7" y="208.2" font-size="7.3" text-anchor="start" fill="#1a1a1a" stroke="#1a1a1a" >Range within 1.5IQR</text>
<text x="386.7" y="217.5" font-size="7.3" text-anchor="start" fill="#1a1a1a" stroke="#1a1a1a" >Median Line</text>
<text x="347.4" y="258" font-size="9" text-anchor="middle" fill="#1a1a1a" stroke="#1a1a1a" transform="rotate(-90 347.4 258)" >FF (%)</text>
<text x="326.5" y="188.1" font-size="16.5" text-anchor="start" fill="#1a1a1a" stroke="#1a1a1a" >f</text>
</g>
<g id="pg">
<line x1="570.33" y1="256.5" x2="570.33" y2="263.2" stroke="#5b8fe6" stroke-width="0.8" />
<line x1="570.33" y1="288.3" x2="570.33" y2="302.4" stroke="#5b8fe6" stroke-width="0.8" />
<line x1="561.08" y1="256.5" x2="579.58" y2="256.5" stroke="#5b8fe6" stroke-width="0.8" />
<line x1="561.08" y1="302.4" x2="579.58" y2="302.4" stroke="#5b8fe6" stroke-width="0.8" />
<rect x="551.83" y="263.2" width="37.0" height="25.1" fill="none" stroke="#5b8fe6" stroke-width="0.8"/>
<line x1="551.83" y1="274.3" x2="588.83" y2="274.3" stroke="#5b8fe6" stroke-width="0.8" />
<circle cx="565.7" cy="256.2" r="2.25" fill="#fff" stroke="#5b8fe6" stroke-width="0.7"/>
<circle cx="568.2" cy="256.7" r="2.25" fill="#fff" stroke="#5b8fe6" stroke-width="0.7"/>
<circle cx="575.2" cy="257.4" r="2.25" fill="#fff" stroke="#5b8fe6" stroke-width="0.7"/>
<circle cx="567.5" cy="260.2" r="2.25" fill="#fff" stroke="#5b8fe6" stroke-width="0.7"/>
<circle cx="570.5" cy="267" r="2.25" fill="#fff" stroke="#5b8fe6" stroke-width="0.7"/>
<circle cx="567.5" cy="269.9" r="2.25" fill="#fff" stroke="#5b8fe6" stroke-width="0.7"/>
<circle cx="564.3" cy="272.5" r="2.25" fill="#fff" stroke="#5b8fe6" stroke-width="0.7"/>
<circle cx="569.6" cy="272" r="2.25" fill="#fff" stroke="#5b8fe6" stroke-width="0.7"/>
<circle cx="566.1" cy="278.1" r="2.25" fill="#fff" stroke="#5b8fe6" stroke-width="0.7"/>
<circle cx="571" cy="276.4" r="2.25" fill="#fff" stroke="#5b8fe6" stroke-width="0.7"/>
<circle cx="571.4" cy="278.5" r="2.25" fill="#fff" stroke="#5b8fe6" stroke-width="0.7"/>
<circle cx="565.7" cy="281.6" r="2.25" fill="#fff" stroke="#5b8fe6" stroke-width="0.7"/>
<circle cx="563.5" cy="295.3" r="2.25" fill="#fff" stroke="#5b8fe6" stroke-width="0.7"/>
<circle cx="572.2" cy="298.9" r="2.25" fill="#fff" stroke="#5b8fe6" stroke-width="0.7"/>
<circle cx="572.8" cy="301" r="2.25" fill="#fff" stroke="#5b8fe6" stroke-width="0.7"/>
<circle cx="572.8" cy="302.4" r="2.25" fill="#fff" stroke="#5b8fe6" stroke-width="0.7"/>
<line x1="627.97" y1="232.4" x2="627.97" y2="236.4" stroke="#f3a87c" stroke-width="0.8" />
<line x1="627.97" y1="257.6" x2="627.97" y2="271.6" stroke="#f3a87c" stroke-width="0.8" />
<line x1="618.72" y1="232.4" x2="637.22" y2="232.4" stroke="#f3a87c" stroke-width="0.8" />
<line x1="618.72" y1="271.6" x2="637.22" y2="271.6" stroke="#f3a87c" stroke-width="0.8" />
<rect x="609.47" y="236.4" width="37.0" height="21.2" fill="none" stroke="#f3a87c" stroke-width="0.8"/>
<line x1="609.47" y1="244.7" x2="646.47" y2="244.7" stroke="#f3a87c" stroke-width="0.8" />
<circle cx="624.6" cy="232" r="2.25" fill="#fff" stroke="#f3a87c" stroke-width="0.7"/>
<circle cx="627.3" cy="232" r="2.25" fill="#fff" stroke="#f3a87c" stroke-width="0.7"/>
<circle cx="628.5" cy="233.4" r="2.25" fill="#fff" stroke="#f3a87c" stroke-width="0.7"/>
<circle cx="626.4" cy="237" r="2.25" fill="#fff" stroke="#f3a87c" stroke-width="0.7"/>
<circle cx="626.7" cy="241.7" r="2.25" fill="#fff" stroke="#f3a87c" stroke-width="0.7"/>
<circle cx="633.1" cy="242.2" r="2.25" fill="#fff" stroke="#f3a87c" stroke-width="0.7"/>
<circle cx="625.5" cy="247" r="2.25" fill="#fff" stroke="#f3a87c" stroke-width="0.7"/>
<circle cx="627.8" cy="252.3" r="2.25" fill="#fff" stroke="#f3a87c" stroke-width="0.7"/>
<circle cx="626.4" cy="254.6" r="2.25" fill="#fff" stroke="#f3a87c" stroke-width="0.7"/>
<circle cx="630.3" cy="257" r="2.25" fill="#fff" stroke="#f3a87c" stroke-width="0.7"/>
<circle cx="628.2" cy="258.1" r="2.25" fill="#fff" stroke="#f3a87c" stroke-width="0.7"/>
<circle cx="628.5" cy="266.9" r="2.25" fill="#fff" stroke="#f3a87c" stroke-width="0.7"/>
<circle cx="632" cy="267.6" r="2.25" fill="#fff" stroke="#f3a87c" stroke-width="0.7"/>
<circle cx="629.9" cy="271.1" r="2.25" fill="#fff" stroke="#f3a87c" stroke-width="0.7"/>
<line x1="541" y1="189.4" x2="657.3" y2="189.4" stroke="#454545" stroke-width="1.0" />
<line x1="541.5" y1="189.4" x2="541.5" y2="326.6" stroke="#454545" stroke-width="1.0" />
<line x1="541.5" y1="326.6" x2="656.8" y2="326.6" stroke="#6a6a6a" stroke-width="1.2" />
<line x1="656.8" y1="189.4" x2="656.8" y2="326.6" stroke="#a3a3a3" stroke-width="1.5" />
<line x1="539.1" y1="326.6" x2="541.5" y2="326.6" stroke="#3a3a3a" stroke-width="1.0" />
<text x="536.9" y="329.8" font-size="9" text-anchor="end" fill="#1a1a1a" stroke="#1a1a1a" >15.8</text>
<line x1="539.1" y1="299.16" x2="541.5" y2="299.16" stroke="#3a3a3a" stroke-width="1.0" />
<text x="536.9" y="302.36" font-size="9" text-anchor="end" fill="#1a1a1a" stroke="#1a1a1a" >15.9</text>
<line x1="539.1" y1="271.72" x2="541.5" y2="271.72" stroke="#3a3a3a" stroke-width="1.0" />
<text x="536.9" y="274.92" font-size="9" text-anchor="end" fill="#1a1a1a" stroke="#1a1a1a" >16.0</text>
<line x1="539.1" y1="244.28" x2="541.5" y2="244.28" stroke="#3a3a3a" stroke-width="1.0" />
<text x="536.9" y="247.48" font-size="9" text-anchor="end" fill="#1a1a1a" stroke="#1a1a1a" >16.1</text>
<line x1="539.1" y1="216.84" x2="541.5" y2="216.84" stroke="#3a3a3a" stroke-width="1.0" />
<text x="536.9" y="220.04" font-size="9" text-anchor="end" fill="#1a1a1a" stroke="#1a1a1a" >16.2</text>
<line x1="539.1" y1="189.4" x2="541.5" y2="189.4" stroke="#3a3a3a" stroke-width="1.0" />
<text x="536.9" y="192.6" font-size="9" text-anchor="end" fill="#1a1a1a" stroke="#1a1a1a" >16.3</text>
<line x1="540.1" y1="312.88" x2="541.5" y2="312.88" stroke="#3a3a3a" stroke-width="1.0" />
<line x1="540.1" y1="285.44" x2="541.5" y2="285.44" stroke="#3a3a3a" stroke-width="1.0" />
<line x1="540.1" y1="258" x2="541.5" y2="258" stroke="#3a3a3a" stroke-width="1.0" />
<line x1="540.1" y1="230.56" x2="541.5" y2="230.56" stroke="#3a3a3a" stroke-width="1.0" />
<line x1="540.1" y1="203.12" x2="541.5" y2="203.12" stroke="#3a3a3a" stroke-width="1.0" />
<line x1="570.33" y1="326.6" x2="570.33" y2="329" stroke="#3a3a3a" stroke-width="1.0" />
<text x="570.33" y="339.1" font-size="9" text-anchor="middle" fill="#1a1a1a" stroke="#1a1a1a" >Control</text>
<line x1="627.97" y1="326.6" x2="627.97" y2="329" stroke="#3a3a3a" stroke-width="1.0" />
<text x="627.97" y="339.1" font-size="9" text-anchor="middle" fill="#1a1a1a" stroke="#1a1a1a" >Target</text>
<rect x="544.6" y="192.5" width="16.1" height="8" rx="1" fill="none" stroke="#5b8fe6" stroke-width="1.0"/>
<line x1="552.65" y1="202.4" x2="552.65" y2="209.6" stroke="#5b8fe6" stroke-width="1.0" />
<line x1="550.45" y1="202.4" x2="554.85" y2="202.4" stroke="#5b8fe6" stroke-width="1.0" />
<line x1="550.45" y1="209.6" x2="554.85" y2="209.6" stroke="#5b8fe6" stroke-width="1.0" />
<line x1="547.85" y1="215.5" x2="557.45" y2="215.5" stroke="#5b8fe6" stroke-width="1.0" />
<text x="562.7" y="199" font-size="7.3" text-anchor="start" fill="#1a1a1a" stroke="#1a1a1a" >25%~75%</text>
<text x="562.7" y="208.2" font-size="7.3" text-anchor="start" fill="#1a1a1a" stroke="#1a1a1a" >Range within 1.5IQR</text>
<text x="562.7" y="217.5" font-size="7.3" text-anchor="start" fill="#1a1a1a" stroke="#1a1a1a" >Median Line</text>
<text x="515" y="258" font-size="9.7" text-anchor="middle" fill="#1a1a1a" stroke="#1a1a1a" transform="rotate(-90 515 258)" ><tspan font-style="italic">J</tspan><tspan font-size="6.6" dy="2">sc</tspan><tspan dy="-2"> (mA/cm</tspan><tspan dy="-3.6" font-size="6.8">2</tspan><tspan dy="3.6">)</tspan></text>
<text x="494.1" y="188.5" font-size="16.5" text-anchor="start" fill="#1a1a1a" stroke="#1a1a1a" >g</text>
</g>
</svg>
</body></html>
